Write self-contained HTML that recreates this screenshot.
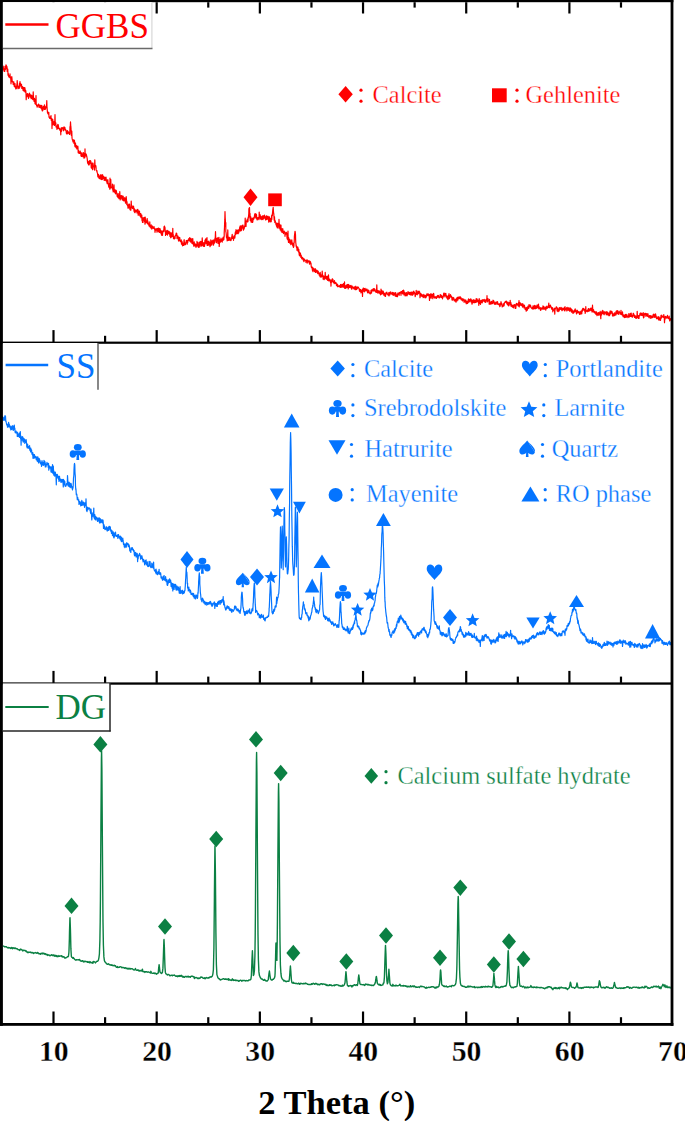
<!DOCTYPE html>
<html><head><meta charset="utf-8"><style>
html,body{margin:0;padding:0;background:#fff;width:685px;height:1121px;overflow:hidden;}
svg{display:block;font-family:"Liberation Serif",serif;}
</style></head><body>
<svg width="685" height="1121" viewBox="0 0 685 1121">
<rect width="685" height="1121" fill="#fff"/>
<path d="M3.0,70.5 L3.2,66.2 L3.5,68.7 L3.8,70.2 L4.0,70.2 L4.2,71.5 L4.5,68.5 L4.8,71.3 L5.0,66.3 L5.2,68.6 L5.5,69.4 L5.8,66.6 L6.0,64.8 L6.2,67.8 L6.5,65.7 L6.8,69.0 L7.0,66.6 L7.2,71.5 L7.5,68.9 L7.8,69.4 L8.0,75.2 L8.2,73.1 L8.5,75.3 L8.8,77.0 L9.0,75.7 L9.2,77.0 L9.5,75.8 L9.8,77.6 L10.0,73.8 L10.2,77.5 L10.5,76.7 L10.8,79.5 L11.0,83.8 L11.2,78.3 L11.5,77.9 L11.8,76.7 L12.0,78.8 L12.2,81.8 L12.5,81.2 L12.8,81.6 L13.0,81.9 L13.2,84.5 L13.5,83.2 L13.8,81.9 L14.0,83.8 L14.2,86.3 L14.5,84.7 L14.8,85.4 L15.0,83.6 L15.2,87.4 L15.5,86.8 L15.8,88.9 L16.0,86.4 L16.2,88.6 L16.5,88.1 L16.8,85.6 L17.0,84.2 L17.2,80.6 L17.5,84.5 L17.8,86.3 L18.0,88.6 L18.2,86.1 L18.5,87.2 L18.8,87.8 L19.0,87.4 L19.2,88.4 L19.5,83.0 L19.8,87.2 L20.0,81.6 L20.2,83.9 L20.5,83.4 L20.8,85.9 L21.0,84.9 L21.2,85.0 L21.5,84.3 L21.8,88.4 L22.0,86.8 L22.2,88.2 L22.5,86.6 L22.8,88.0 L23.0,90.3 L23.2,89.4 L23.5,87.9 L23.8,87.4 L24.0,91.2 L24.2,91.1 L24.5,88.6 L24.8,87.5 L25.0,88.7 L25.2,92.1 L25.5,90.0 L25.8,91.0 L26.0,92.9 L26.2,99.7 L26.5,93.9 L26.8,96.2 L27.0,94.4 L27.2,96.1 L27.5,93.7 L27.8,96.7 L28.0,93.9 L28.2,96.3 L28.5,98.3 L28.8,96.0 L29.0,94.5 L29.2,95.8 L29.5,93.1 L29.8,94.6 L30.0,95.5 L30.2,97.2 L30.5,95.7 L30.8,94.9 L31.0,96.9 L31.2,98.6 L31.5,96.9 L31.8,95.4 L32.0,96.6 L32.2,98.6 L32.5,99.1 L32.8,97.6 L33.0,99.7 L33.2,91.9 L33.5,98.8 L33.8,97.8 L34.0,101.3 L34.2,99.8 L34.5,98.6 L34.8,99.6 L35.0,103.6 L35.2,100.1 L35.5,104.2 L35.8,102.2 L36.0,95.6 L36.2,103.5 L36.5,105.3 L36.8,105.9 L37.0,105.1 L37.2,107.2 L37.5,106.0 L37.8,105.8 L38.0,105.7 L38.2,104.7 L38.5,104.1 L38.8,104.7 L39.0,107.3 L39.2,106.0 L39.5,106.4 L39.8,105.2 L40.0,107.4 L40.2,106.1 L40.5,107.3 L40.8,105.3 L41.0,108.3 L41.2,107.8 L41.5,109.0 L41.8,105.4 L42.0,109.2 L42.2,110.8 L42.5,110.8 L42.8,110.5 L43.0,107.7 L43.2,106.6 L43.5,107.7 L43.8,106.2 L44.0,106.8 L44.2,109.4 L44.5,104.8 L44.8,109.5 L45.0,106.5 L45.2,109.4 L45.5,109.1 L45.8,107.5 L46.0,107.8 L46.2,106.2 L46.5,106.5 L46.8,100.7 L47.0,107.7 L47.2,109.2 L47.5,113.0 L47.8,111.8 L48.0,113.5 L48.2,114.2 L48.5,113.8 L48.8,112.3 L49.0,117.1 L49.2,117.6 L49.5,117.1 L49.8,118.5 L50.0,117.2 L50.2,116.8 L50.5,117.6 L50.8,118.6 L51.0,115.5 L51.2,120.3 L51.5,119.6 L51.8,118.5 L52.0,128.6 L52.2,120.0 L52.5,119.4 L52.8,119.5 L53.0,124.8 L53.2,124.2 L53.5,122.8 L53.8,124.6 L54.0,121.5 L54.2,123.3 L54.5,125.4 L54.8,121.2 L55.0,114.6 L55.2,121.6 L55.5,124.6 L55.8,122.9 L56.0,127.0 L56.2,125.7 L56.5,125.9 L56.8,127.6 L57.0,129.4 L57.2,128.0 L57.5,126.4 L57.8,124.3 L58.0,128.4 L58.2,124.6 L58.5,126.7 L58.8,128.6 L59.0,128.7 L59.2,128.9 L59.5,128.4 L59.8,130.1 L60.0,129.8 L60.2,129.6 L60.5,129.3 L60.8,134.8 L61.0,128.2 L61.2,128.5 L61.5,131.3 L61.8,127.5 L62.0,128.2 L62.2,128.2 L62.5,128.4 L62.8,127.6 L63.0,128.7 L63.2,129.8 L63.5,130.8 L63.8,130.3 L64.0,126.9 L64.2,128.1 L64.5,129.0 L64.8,127.4 L65.0,128.0 L65.2,130.0 L65.5,129.6 L65.8,130.6 L66.0,130.1 L66.2,132.1 L66.5,133.7 L66.8,134.0 L67.0,134.0 L67.2,131.0 L67.5,130.7 L67.8,132.3 L68.0,133.7 L68.2,132.1 L68.5,131.8 L68.8,133.2 L69.0,132.4 L69.2,133.3 L69.5,133.1 L69.5,134.5 L69.8,133.6 L70.0,126.5 L70.0,127.6 L70.2,128.0 L70.5,121.9 L70.8,126.7 L71.0,127.9 L71.0,127.8 L71.2,134.9 L71.5,135.6 L71.5,134.6 L71.8,131.2 L72.0,137.6 L72.2,138.9 L72.5,140.2 L72.8,140.3 L73.0,141.8 L73.2,141.6 L73.5,141.6 L73.8,139.5 L74.0,143.4 L74.2,142.7 L74.5,140.7 L74.8,145.5 L75.0,146.7 L75.2,142.9 L75.5,143.4 L75.8,146.3 L76.0,147.7 L76.2,147.5 L76.5,145.6 L76.8,149.0 L77.0,148.2 L77.2,149.0 L77.5,149.0 L77.8,146.1 L78.0,147.9 L78.2,152.8 L78.5,150.3 L78.8,152.9 L79.0,152.1 L79.2,153.4 L79.5,153.4 L79.8,153.3 L80.0,151.0 L80.2,151.1 L80.5,153.4 L80.8,152.5 L81.0,155.9 L81.2,154.2 L81.5,156.5 L81.8,153.1 L82.0,152.8 L82.2,154.8 L82.5,156.2 L82.8,156.4 L83.0,156.8 L83.2,155.8 L83.5,152.7 L83.8,155.2 L84.0,158.2 L84.2,153.6 L84.5,155.4 L84.8,157.7 L85.0,148.9 L85.2,155.7 L85.5,153.7 L85.8,155.4 L86.0,156.1 L86.2,154.2 L86.5,155.4 L86.8,156.5 L87.0,157.5 L87.2,158.6 L87.5,162.0 L87.8,163.3 L88.0,163.5 L88.2,161.3 L88.5,164.8 L88.8,163.0 L89.0,162.1 L89.2,164.8 L89.5,160.6 L89.8,163.6 L90.0,162.0 L90.2,160.7 L90.5,160.7 L90.8,161.3 L91.0,162.6 L91.2,167.5 L91.5,168.2 L91.8,164.4 L92.0,163.2 L92.2,163.1 L92.5,169.7 L92.8,163.0 L93.0,163.0 L93.2,164.6 L93.5,166.8 L93.8,167.0 L94.0,166.4 L94.2,169.2 L94.5,170.2 L94.8,159.8 L95.0,164.3 L95.2,166.9 L95.5,165.6 L95.8,165.6 L96.0,166.8 L96.2,169.9 L96.5,171.0 L96.8,170.5 L97.0,171.0 L97.2,172.7 L97.5,173.2 L97.8,176.4 L98.0,175.4 L98.2,177.2 L98.5,174.4 L98.8,175.8 L99.0,178.1 L99.2,175.8 L99.5,178.7 L99.8,177.3 L100.0,176.6 L100.2,176.5 L100.5,174.9 L100.8,179.1 L101.0,175.2 L101.2,178.2 L101.5,179.5 L101.8,174.9 L102.0,179.6 L102.2,174.7 L102.5,179.1 L102.8,175.1 L103.0,177.8 L103.2,178.4 L103.5,177.7 L103.8,176.6 L104.0,178.2 L104.2,180.5 L104.5,177.3 L104.8,179.9 L105.0,180.1 L105.2,178.8 L105.5,177.4 L105.8,180.7 L106.0,177.0 L106.2,179.3 L106.5,180.1 L106.8,182.1 L107.0,182.6 L107.2,183.7 L107.5,182.4 L107.8,179.6 L108.0,181.5 L108.2,183.9 L108.5,185.4 L108.8,187.1 L109.0,184.4 L109.2,183.6 L109.5,186.5 L109.8,189.2 L110.0,178.2 L110.2,188.7 L110.5,185.8 L110.8,179.5 L111.0,186.6 L111.2,187.4 L111.5,187.3 L111.8,187.2 L112.0,187.4 L112.2,188.7 L112.5,184.1 L112.8,190.3 L113.0,188.2 L113.2,192.0 L113.5,191.3 L113.8,187.7 L114.0,184.8 L114.2,189.7 L114.5,190.9 L114.8,192.6 L115.0,190.4 L115.2,189.9 L115.5,193.8 L115.8,191.1 L116.0,192.1 L116.2,190.4 L116.5,191.8 L116.8,193.6 L117.0,195.0 L117.2,196.4 L117.5,194.4 L117.8,197.0 L118.0,197.7 L118.2,193.6 L118.5,197.5 L118.8,196.3 L119.0,198.6 L119.2,195.8 L119.5,196.1 L119.8,191.6 L120.0,195.9 L120.2,200.0 L120.5,196.1 L120.8,198.7 L121.0,195.5 L121.2,196.1 L121.5,195.7 L121.8,196.4 L122.0,197.7 L122.2,199.7 L122.5,198.4 L122.8,195.8 L123.0,200.4 L123.2,196.3 L123.5,200.8 L123.8,200.7 L124.0,200.6 L124.2,200.4 L124.5,197.8 L124.8,197.7 L125.0,201.2 L125.2,199.3 L125.5,203.1 L125.8,200.8 L126.0,199.1 L126.2,196.7 L126.5,200.0 L126.8,204.6 L127.0,201.7 L127.2,204.1 L127.5,205.2 L127.8,206.0 L128.0,208.2 L128.2,206.2 L128.5,205.7 L128.8,204.2 L129.0,208.0 L129.2,205.1 L129.5,204.1 L129.8,207.9 L130.0,209.6 L130.2,208.8 L130.5,207.4 L130.8,210.3 L131.0,208.2 L131.2,201.1 L131.5,206.9 L131.8,205.3 L132.0,206.3 L132.2,207.8 L132.5,208.4 L132.8,208.6 L133.0,208.1 L133.2,206.5 L133.5,206.2 L133.8,208.2 L134.0,211.1 L134.2,208.4 L134.5,212.2 L134.8,209.7 L135.0,212.6 L135.2,209.8 L135.5,211.2 L135.8,211.6 L136.0,210.1 L136.2,210.6 L136.5,211.5 L136.8,210.5 L137.0,212.9 L137.2,209.6 L137.5,209.9 L137.8,209.3 L138.0,212.8 L138.2,215.3 L138.5,213.7 L138.8,210.9 L139.0,213.9 L139.2,211.8 L139.5,211.3 L139.8,215.8 L140.0,215.4 L140.2,213.7 L140.5,216.4 L140.8,213.5 L141.0,217.6 L141.2,216.7 L141.5,215.3 L141.8,215.1 L142.0,220.6 L142.2,220.1 L142.5,222.3 L142.8,217.8 L143.0,222.5 L143.2,217.9 L143.5,220.2 L143.8,219.9 L144.0,219.2 L144.2,217.4 L144.5,221.4 L144.8,220.4 L145.0,224.2 L145.2,217.1 L145.5,220.6 L145.8,221.0 L146.0,222.5 L146.2,222.8 L146.5,222.3 L146.8,220.5 L147.0,219.4 L147.2,218.5 L147.5,223.8 L147.8,220.8 L148.0,223.2 L148.2,222.6 L148.5,224.1 L148.8,224.6 L149.0,225.8 L149.2,225.7 L149.5,226.2 L149.8,221.9 L150.0,227.0 L150.2,225.1 L150.5,225.7 L150.8,228.0 L151.0,226.2 L151.2,224.8 L151.5,227.7 L151.8,229.2 L152.0,227.6 L152.2,226.0 L152.5,226.1 L152.8,228.1 L153.0,227.4 L153.2,228.4 L153.5,227.4 L153.8,227.3 L154.0,226.6 L154.2,228.4 L154.5,229.2 L154.8,228.4 L155.0,232.3 L155.2,230.9 L155.5,229.4 L155.8,230.3 L156.0,230.0 L156.2,229.0 L156.5,228.8 L156.8,228.8 L157.0,232.2 L157.2,228.7 L157.5,228.5 L157.8,229.7 L158.0,228.7 L158.2,231.3 L158.5,228.1 L158.8,231.0 L159.0,228.3 L159.2,232.5 L159.5,231.0 L159.8,232.5 L160.0,228.5 L160.2,230.5 L160.5,230.1 L160.8,233.1 L161.0,231.2 L161.2,232.3 L161.5,235.1 L161.8,230.8 L162.0,233.1 L162.2,234.0 L162.5,235.4 L162.8,231.2 L163.0,231.2 L163.2,230.8 L163.5,230.0 L163.5,231.0 L163.8,231.7 L164.0,226.7 L164.0,226.7 L164.2,226.8 L164.5,226.0 L164.8,227.6 L165.0,227.5 L165.0,227.7 L165.2,231.0 L165.5,233.0 L165.5,235.5 L165.8,232.4 L166.0,231.4 L166.2,231.2 L166.5,231.5 L166.8,234.5 L167.0,230.4 L167.2,230.4 L167.5,235.2 L167.8,233.4 L168.0,230.8 L168.2,232.0 L168.5,232.5 L168.8,233.6 L169.0,231.3 L169.2,231.5 L169.5,234.1 L169.8,234.8 L170.0,236.4 L170.2,232.4 L170.5,237.0 L170.8,237.8 L171.0,236.8 L171.2,237.3 L171.5,232.9 L171.8,236.0 L172.0,235.2 L172.2,236.6 L172.5,235.9 L172.8,228.3 L173.0,235.2 L173.2,234.3 L173.5,238.6 L173.8,236.5 L174.0,237.4 L174.2,236.9 L174.5,239.0 L174.8,236.7 L175.0,238.5 L175.2,235.7 L175.5,235.1 L175.8,235.6 L176.0,234.3 L176.2,233.0 L176.5,233.3 L176.8,233.6 L177.0,238.6 L177.2,235.6 L177.5,237.2 L177.8,237.9 L178.0,236.0 L178.2,237.2 L178.5,240.7 L178.8,241.1 L179.0,239.0 L179.2,237.3 L179.5,239.0 L179.8,237.7 L180.0,240.6 L180.2,241.1 L180.5,241.7 L180.8,241.0 L181.0,240.5 L181.2,239.9 L181.5,244.2 L181.8,241.0 L182.0,244.2 L182.2,241.8 L182.5,245.8 L182.8,245.1 L183.0,244.5 L183.2,243.3 L183.5,245.5 L183.8,244.1 L184.0,240.1 L184.2,239.7 L184.5,244.9 L184.8,242.7 L185.0,243.4 L185.2,243.1 L185.5,244.7 L185.8,243.0 L186.0,242.9 L186.2,240.7 L186.5,241.1 L186.8,241.2 L187.0,240.4 L187.2,244.2 L187.5,241.4 L187.8,242.5 L188.0,240.2 L188.2,240.6 L188.5,240.3 L188.8,238.6 L189.0,239.7 L189.2,240.4 L189.5,238.7 L189.8,237.5 L190.0,241.4 L190.2,241.3 L190.5,238.6 L190.8,242.2 L191.0,238.3 L191.2,239.3 L191.5,239.3 L191.8,239.3 L192.0,243.5 L192.2,239.0 L192.5,243.5 L192.8,238.7 L193.0,243.0 L193.2,244.4 L193.5,243.8 L193.8,246.2 L194.0,243.2 L194.2,241.9 L194.5,245.1 L194.8,245.9 L195.0,245.3 L195.2,244.2 L195.5,244.0 L195.8,246.5 L196.0,247.5 L196.2,245.0 L196.5,245.4 L196.8,246.0 L197.0,241.4 L197.2,244.3 L197.5,242.4 L197.8,245.1 L198.0,246.8 L198.2,246.7 L198.5,246.3 L198.8,247.5 L199.0,242.4 L199.2,247.1 L199.5,244.6 L199.8,243.4 L200.0,243.8 L200.2,241.4 L200.5,241.7 L200.8,246.2 L201.0,245.7 L201.2,241.6 L201.5,244.0 L201.8,245.8 L202.0,242.8 L202.2,237.9 L202.5,242.6 L202.8,243.8 L203.0,245.2 L203.2,246.2 L203.5,244.7 L203.8,242.5 L204.0,246.5 L204.2,244.9 L204.5,246.4 L204.8,242.4 L205.0,240.0 L205.2,243.9 L205.5,239.3 L205.8,238.8 L206.0,238.9 L206.2,241.2 L206.5,243.6 L206.8,241.6 L207.0,237.5 L207.2,245.5 L207.5,242.9 L207.8,244.7 L208.0,245.4 L208.2,241.3 L208.5,242.2 L208.8,244.9 L209.0,241.2 L209.2,243.8 L209.5,242.4 L209.8,242.6 L210.0,246.6 L210.2,243.4 L210.5,245.7 L210.8,239.8 L211.0,242.9 L211.2,241.5 L211.5,241.1 L211.8,245.2 L212.0,244.2 L212.2,240.8 L212.5,240.7 L212.8,243.0 L213.0,240.0 L213.2,240.4 L213.5,245.2 L213.8,243.1 L214.0,239.9 L214.2,240.6 L214.5,243.1 L214.8,240.5 L215.0,238.1 L215.2,239.2 L215.5,231.7 L215.8,239.5 L216.0,240.3 L216.2,242.3 L216.5,242.7 L216.8,238.4 L217.0,238.6 L217.2,239.9 L217.5,237.9 L217.8,241.4 L218.0,243.4 L218.2,238.2 L218.5,240.0 L218.8,237.5 L219.0,237.4 L219.2,246.5 L219.5,243.0 L219.8,239.7 L220.0,241.6 L220.2,241.5 L220.5,242.1 L220.8,241.3 L221.0,238.1 L221.2,238.8 L221.5,240.4 L221.8,240.7 L222.0,241.5 L222.2,242.2 L222.5,239.3 L222.8,237.9 L223.0,240.5 L223.2,237.2 L223.5,239.5 L223.8,239.7 L224.0,237.3 L224.2,236.4 L224.2,233.1 L224.5,227.3 L224.6,223.5 L224.8,219.9 L225.0,211.6 L225.2,217.7 L225.4,220.7 L225.5,226.2 L225.8,222.5 L225.8,231.6 L226.0,232.2 L226.2,233.9 L226.5,237.8 L226.8,237.8 L227.0,238.5 L227.2,240.9 L227.5,239.7 L227.8,229.9 L228.0,238.5 L228.2,240.3 L228.5,237.0 L228.8,238.1 L229.0,238.6 L229.2,240.5 L229.5,238.3 L229.8,237.3 L230.0,237.5 L230.2,239.2 L230.5,240.3 L230.8,240.7 L231.0,240.5 L231.2,239.5 L231.5,238.4 L231.8,237.0 L232.0,235.8 L232.2,234.4 L232.5,238.4 L232.8,237.1 L233.0,237.9 L233.2,237.9 L233.5,240.3 L233.8,236.2 L234.0,238.2 L234.2,237.0 L234.5,235.7 L234.8,238.1 L235.0,236.1 L235.2,233.0 L235.5,231.5 L235.8,234.3 L236.0,229.7 L236.2,230.3 L236.5,231.9 L236.8,230.6 L237.0,233.7 L237.2,230.4 L237.5,232.4 L237.8,230.7 L238.0,229.8 L238.2,233.6 L238.5,230.7 L238.8,232.6 L239.0,229.5 L239.2,230.9 L239.5,228.8 L239.8,226.8 L240.0,231.0 L240.2,225.9 L240.5,230.8 L240.8,230.8 L241.0,229.3 L241.2,225.9 L241.5,230.3 L241.8,228.3 L242.0,228.7 L242.2,226.2 L242.5,225.2 L242.8,227.2 L243.0,225.0 L243.2,227.0 L243.5,230.1 L243.8,228.2 L244.0,229.1 L244.2,228.5 L244.5,226.1 L244.8,227.0 L245.0,224.1 L245.2,218.1 L245.5,225.2 L245.8,224.2 L246.0,226.4 L246.2,222.2 L246.5,220.9 L246.8,221.3 L247.0,221.3 L247.2,219.2 L247.5,222.0 L247.8,221.8 L248.0,221.2 L248.2,217.1 L248.2,218.7 L248.5,217.0 L248.8,213.2 L248.9,208.5 L249.0,209.2 L249.2,208.4 L249.5,207.5 L249.8,217.9 L250.0,213.3 L250.1,214.9 L250.2,220.6 L250.5,218.7 L250.8,219.1 L250.8,216.8 L251.0,220.5 L251.2,222.3 L251.5,220.8 L251.8,219.2 L252.0,219.4 L252.2,218.1 L252.5,222.5 L252.8,222.0 L253.0,219.7 L253.2,219.8 L253.5,217.9 L253.8,219.1 L254.0,218.5 L254.2,217.7 L254.5,215.5 L254.8,213.8 L255.0,217.2 L255.2,214.0 L255.5,215.9 L255.8,213.7 L256.0,218.2 L256.2,214.3 L256.5,214.7 L256.8,219.1 L257.0,219.3 L257.2,220.0 L257.5,219.0 L257.8,217.5 L258.0,219.0 L258.2,218.9 L258.5,217.3 L258.8,218.4 L259.0,219.6 L259.2,212.1 L259.5,218.0 L259.8,215.1 L260.0,214.5 L260.2,215.6 L260.5,218.9 L260.8,216.2 L261.0,219.1 L261.2,217.6 L261.5,217.1 L261.8,219.6 L262.0,218.2 L262.2,216.7 L262.5,215.9 L262.8,218.6 L263.0,219.6 L263.2,215.8 L263.5,215.9 L263.8,216.6 L264.0,218.4 L264.2,218.2 L264.5,215.1 L264.8,217.7 L265.0,216.1 L265.2,216.5 L265.5,220.0 L265.8,219.6 L266.0,219.6 L266.2,219.7 L266.5,216.3 L266.8,215.7 L267.0,219.4 L267.2,219.3 L267.5,216.6 L267.8,216.9 L268.0,218.2 L268.2,216.4 L268.5,220.1 L268.8,222.2 L269.0,220.2 L269.2,217.6 L269.5,216.9 L269.8,220.4 L270.0,221.1 L270.2,221.9 L270.5,218.6 L270.8,221.0 L271.0,219.9 L271.2,221.6 L271.5,217.3 L271.7,215.4 L271.8,219.4 L272.0,215.8 L272.2,214.2 L272.4,215.4 L272.5,213.1 L272.8,209.9 L273.0,208.5 L273.2,207.3 L273.5,212.1 L273.6,212.8 L273.8,213.9 L274.0,217.5 L274.2,220.3 L274.3,216.8 L274.5,216.9 L274.8,222.4 L275.0,222.6 L275.2,220.5 L275.5,222.2 L275.8,222.7 L276.0,224.7 L276.2,223.0 L276.5,226.1 L276.8,223.0 L277.0,226.3 L277.2,227.6 L277.5,224.2 L277.8,223.3 L278.0,228.1 L278.2,225.3 L278.5,224.4 L278.8,225.6 L279.0,219.4 L279.2,225.3 L279.5,228.1 L279.8,224.3 L280.0,226.5 L280.2,229.9 L280.5,229.3 L280.8,230.3 L281.0,225.2 L281.2,231.2 L281.5,229.8 L281.8,228.9 L282.0,232.5 L282.2,230.7 L282.5,229.1 L282.8,228.7 L283.0,230.5 L283.2,232.6 L283.5,233.7 L283.8,231.5 L284.0,232.7 L284.2,231.1 L284.5,232.2 L284.8,231.9 L285.0,236.3 L285.2,234.4 L285.5,233.2 L285.8,234.2 L286.0,232.8 L286.2,232.4 L286.5,232.5 L286.8,233.6 L287.0,237.6 L287.2,238.8 L287.5,238.8 L287.8,239.9 L288.0,231.1 L288.2,239.0 L288.5,242.4 L288.8,237.8 L289.0,240.0 L289.2,239.0 L289.5,240.8 L289.8,243.1 L290.0,239.6 L290.2,243.2 L290.5,240.5 L290.8,244.6 L291.0,243.2 L291.2,244.2 L291.5,241.9 L291.8,239.8 L292.0,242.4 L292.2,242.5 L292.5,245.2 L292.8,243.4 L293.0,244.2 L293.2,247.0 L293.5,247.4 L293.8,246.4 L293.9,245.9 L294.0,242.0 L294.2,242.7 L294.4,236.4 L294.5,235.5 L294.8,233.0 L295.0,231.3 L295.2,231.7 L295.5,234.8 L295.6,239.0 L295.8,243.0 L296.0,244.1 L296.1,246.3 L296.2,245.1 L296.5,247.5 L296.8,246.6 L297.0,250.3 L297.2,249.6 L297.5,247.3 L297.8,247.1 L298.0,247.8 L298.2,251.4 L298.5,251.9 L298.8,249.3 L299.0,252.1 L299.2,254.7 L299.5,255.8 L299.8,252.4 L300.0,255.3 L300.2,253.7 L300.5,253.5 L300.8,257.3 L301.0,255.6 L301.2,255.3 L301.5,257.6 L301.8,258.9 L302.0,257.0 L302.2,258.9 L302.5,258.3 L302.8,257.7 L303.0,259.2 L303.2,260.2 L303.5,258.5 L303.8,261.5 L304.0,261.6 L304.2,260.7 L304.5,259.1 L304.8,259.8 L305.0,260.1 L305.2,260.2 L305.5,260.5 L305.8,260.8 L306.0,262.3 L306.2,260.5 L306.5,261.4 L306.8,261.8 L307.0,259.5 L307.2,263.2 L307.5,261.4 L307.8,261.6 L308.0,260.5 L308.2,261.9 L308.5,261.0 L308.8,261.5 L309.0,260.9 L309.2,262.3 L309.5,264.1 L309.8,261.2 L310.0,263.9 L310.2,262.6 L310.5,261.8 L310.8,263.5 L311.0,263.2 L311.2,266.3 L311.5,267.6 L311.8,266.7 L312.0,267.2 L312.2,268.6 L312.5,270.7 L312.8,267.4 L313.0,271.6 L313.2,268.9 L313.5,268.6 L313.8,269.1 L314.0,269.3 L314.2,269.6 L314.5,271.3 L314.8,268.8 L315.0,271.8 L315.2,268.7 L315.5,272.4 L315.8,269.4 L316.0,272.5 L316.2,271.4 L316.5,272.0 L316.8,271.4 L317.0,270.3 L317.2,270.6 L317.5,273.2 L317.8,273.5 L318.0,271.0 L318.2,271.4 L318.5,272.3 L318.8,272.9 L319.0,273.9 L319.2,275.2 L319.5,273.6 L319.8,273.6 L320.0,276.7 L320.2,272.4 L320.5,275.6 L320.8,276.7 L321.0,277.3 L321.2,275.2 L321.5,276.8 L321.8,274.8 L322.0,275.4 L322.2,271.1 L322.5,276.5 L322.8,275.1 L323.0,277.3 L323.2,279.2 L323.5,276.7 L323.8,276.0 L324.0,277.8 L324.2,279.7 L324.5,277.6 L324.8,277.5 L325.0,277.5 L325.2,272.4 L325.5,278.0 L325.8,278.7 L326.0,278.8 L326.2,276.6 L326.5,279.2 L326.8,277.6 L327.0,276.2 L327.2,276.5 L327.5,280.1 L327.8,277.3 L328.0,280.5 L328.2,277.5 L328.5,274.8 L328.8,281.0 L329.0,279.8 L329.2,281.0 L329.5,279.0 L329.8,280.2 L330.0,280.1 L330.2,280.0 L330.5,282.5 L330.8,282.2 L331.0,286.1 L331.2,280.0 L331.5,281.9 L331.8,282.2 L332.0,281.7 L332.2,279.0 L332.5,278.8 L332.8,280.0 L333.0,279.5 L333.2,281.5 L333.5,282.6 L333.8,282.8 L334.0,281.6 L334.2,283.6 L334.5,280.7 L334.8,283.1 L335.0,283.0 L335.2,282.4 L335.5,283.5 L335.8,282.5 L336.0,282.5 L336.2,284.0 L336.5,285.7 L336.8,285.7 L337.0,283.8 L337.2,284.7 L337.5,286.7 L337.8,284.9 L338.0,286.6 L338.2,286.3 L338.5,286.5 L338.8,286.2 L339.0,286.6 L339.2,286.1 L339.5,285.7 L339.8,285.8 L340.0,285.8 L340.2,287.4 L340.5,284.5 L340.8,286.1 L341.0,284.4 L341.2,287.5 L341.5,284.9 L341.8,284.8 L342.0,284.9 L342.2,286.4 L342.5,284.4 L342.8,284.6 L343.0,287.4 L343.2,286.9 L343.5,283.6 L343.8,284.4 L344.0,286.5 L344.2,287.3 L344.5,281.8 L344.8,288.5 L345.0,285.8 L345.2,288.4 L345.5,285.9 L345.8,285.8 L346.0,288.2 L346.2,287.1 L346.5,285.0 L346.8,285.0 L347.0,287.5 L347.2,284.5 L347.5,286.9 L347.8,285.7 L348.0,284.3 L348.2,288.9 L348.5,286.5 L348.8,284.7 L349.0,287.6 L349.2,286.7 L349.5,285.9 L349.8,287.3 L350.0,285.6 L350.2,286.5 L350.5,286.0 L350.8,287.6 L351.0,285.4 L351.2,286.7 L351.5,289.0 L351.8,289.2 L352.0,286.9 L352.2,286.0 L352.5,287.5 L352.8,287.9 L353.0,287.6 L353.2,287.6 L353.5,287.2 L353.8,288.9 L354.0,288.9 L354.2,288.0 L354.5,287.0 L354.8,286.8 L355.0,289.4 L355.2,289.7 L355.5,287.0 L355.8,286.2 L356.0,287.8 L356.2,289.6 L356.5,289.4 L356.8,288.2 L357.0,287.2 L357.2,289.0 L357.5,287.1 L357.8,287.1 L358.0,286.9 L358.2,287.9 L358.5,287.5 L358.8,288.1 L359.0,288.1 L359.2,289.1 L359.5,291.1 L359.8,291.4 L360.0,289.4 L360.2,291.2 L360.5,289.6 L360.8,291.7 L361.0,292.9 L361.2,290.6 L361.5,290.8 L361.8,292.1 L362.0,291.8 L362.2,289.4 L362.5,296.5 L362.8,289.4 L363.0,291.0 L363.2,288.0 L363.5,288.0 L363.8,290.3 L364.0,291.5 L364.2,288.5 L364.5,291.8 L364.8,288.8 L365.0,288.4 L365.2,290.4 L365.5,290.8 L365.8,290.5 L366.0,289.2 L366.2,289.8 L366.5,289.3 L366.8,290.9 L367.0,289.2 L367.2,289.8 L367.5,292.4 L367.8,292.8 L368.0,290.4 L368.2,290.2 L368.5,292.3 L368.8,290.4 L369.0,290.9 L369.2,293.1 L369.5,292.9 L369.8,293.2 L370.0,292.8 L370.2,294.0 L370.5,292.7 L370.8,293.2 L371.0,290.3 L371.2,292.6 L371.5,293.1 L371.8,290.3 L372.0,289.5 L372.2,290.6 L372.5,290.8 L372.8,290.2 L373.0,290.5 L373.2,288.7 L373.5,290.0 L373.8,291.1 L374.0,290.6 L374.2,288.5 L374.5,290.6 L374.8,289.8 L375.0,289.2 L375.2,291.3 L375.5,290.7 L375.8,292.1 L376.0,292.0 L376.2,292.5 L376.5,292.0 L376.8,284.8 L377.0,289.6 L377.2,291.3 L377.5,293.0 L377.8,291.9 L378.0,290.6 L378.2,293.0 L378.5,290.8 L378.8,292.9 L379.0,292.1 L379.2,290.9 L379.5,293.2 L379.8,291.6 L380.0,292.3 L380.2,293.9 L380.5,294.9 L380.8,294.0 L381.0,289.1 L381.2,294.4 L381.5,290.2 L381.8,290.4 L382.0,292.6 L382.2,292.3 L382.5,293.8 L382.8,293.7 L383.0,291.2 L383.2,291.2 L383.5,292.8 L383.8,295.1 L384.0,293.3 L384.2,293.2 L384.5,293.6 L384.8,295.7 L385.0,296.2 L385.2,295.8 L385.5,296.4 L385.8,292.9 L386.0,294.1 L386.2,292.5 L386.5,293.6 L386.8,292.0 L387.0,293.9 L387.2,293.0 L387.5,294.5 L387.8,294.5 L388.0,295.0 L388.2,295.2 L388.5,295.2 L388.8,292.5 L389.0,296.0 L389.2,292.3 L389.5,294.9 L389.8,295.0 L390.0,293.8 L390.2,293.8 L390.5,291.9 L390.8,292.1 L391.0,293.0 L391.2,293.9 L391.5,294.0 L391.8,293.8 L392.0,292.9 L392.2,294.3 L392.5,292.3 L392.8,294.3 L393.0,292.8 L393.2,295.4 L393.5,294.8 L393.8,292.7 L394.0,294.2 L394.2,292.9 L394.5,294.5 L394.8,295.3 L395.0,295.5 L395.2,296.1 L395.5,292.5 L395.8,293.0 L396.0,293.7 L396.2,296.4 L396.5,296.6 L396.8,296.4 L397.0,294.8 L397.2,296.2 L397.5,296.7 L397.8,293.0 L398.0,294.2 L398.2,292.8 L398.5,294.5 L398.8,294.2 L399.0,293.8 L399.2,295.3 L399.5,292.5 L399.8,293.1 L400.0,292.3 L400.2,292.1 L400.5,292.5 L400.8,291.9 L401.0,295.3 L401.2,292.2 L401.5,291.5 L401.8,292.0 L402.0,293.2 L402.2,293.3 L402.5,290.6 L402.8,294.0 L403.0,292.3 L403.2,291.9 L403.5,290.2 L403.8,290.5 L404.0,295.0 L404.2,292.0 L404.5,292.3 L404.8,294.0 L405.0,292.5 L405.2,295.9 L405.5,294.1 L405.8,295.7 L406.0,294.0 L406.2,293.4 L406.5,292.5 L406.8,294.6 L407.0,295.9 L407.2,295.4 L407.5,294.0 L407.8,292.5 L408.0,291.6 L408.2,294.1 L408.5,293.6 L408.8,292.4 L409.0,292.6 L409.2,292.6 L409.5,294.4 L409.8,292.4 L410.0,294.6 L410.2,293.8 L410.5,294.4 L410.8,295.0 L411.0,292.1 L411.2,293.9 L411.5,294.5 L411.8,292.1 L412.0,294.0 L412.2,295.3 L412.5,293.1 L412.8,292.5 L413.0,294.7 L413.2,291.5 L413.5,293.9 L413.8,291.2 L414.0,293.2 L414.2,292.2 L414.5,292.3 L414.8,293.7 L415.0,294.9 L415.2,296.7 L415.5,295.1 L415.8,293.4 L416.0,294.4 L416.2,290.3 L416.5,292.9 L416.8,294.0 L417.0,293.1 L417.2,294.8 L417.5,294.1 L417.8,291.1 L418.0,293.7 L418.2,293.3 L418.5,293.7 L418.8,291.6 L419.0,291.1 L419.2,291.9 L419.5,291.7 L419.8,293.1 L420.0,297.6 L420.2,295.9 L420.5,293.4 L420.8,294.8 L421.0,294.0 L421.2,296.0 L421.5,294.0 L421.8,295.9 L422.0,296.5 L422.2,296.1 L422.5,294.9 L422.8,296.2 L423.0,295.4 L423.2,297.7 L423.5,295.9 L423.8,294.4 L424.0,297.1 L424.2,295.1 L424.5,295.6 L424.8,296.8 L425.0,296.2 L425.2,298.0 L425.5,295.4 L425.8,296.5 L426.0,297.6 L426.2,295.0 L426.5,296.4 L426.8,294.0 L427.0,293.8 L427.2,295.5 L427.5,294.2 L427.8,295.6 L428.0,293.9 L428.2,293.9 L428.5,294.8 L428.8,294.4 L429.0,296.3 L429.2,295.7 L429.5,300.5 L429.8,294.6 L430.0,294.3 L430.2,294.8 L430.5,297.8 L430.8,296.6 L431.0,293.6 L431.2,298.1 L431.5,296.0 L431.8,295.4 L432.0,296.2 L432.2,294.4 L432.5,294.4 L432.8,298.7 L433.0,294.5 L433.2,295.5 L433.5,293.3 L433.8,293.8 L434.0,296.7 L434.2,297.6 L434.5,297.8 L434.8,296.9 L435.0,298.1 L435.2,296.7 L435.5,296.9 L435.8,297.6 L436.0,297.9 L436.2,297.3 L436.5,298.5 L436.8,296.4 L437.0,297.1 L437.2,297.4 L437.5,295.7 L437.8,296.8 L438.0,295.3 L438.2,295.6 L438.5,295.5 L438.8,297.3 L439.0,296.9 L439.2,298.0 L439.5,297.0 L439.8,296.9 L440.0,297.1 L440.2,294.7 L440.5,295.4 L440.8,294.8 L441.0,295.9 L441.2,297.4 L441.5,295.5 L441.8,296.0 L442.0,296.8 L442.2,297.7 L442.5,298.9 L442.8,296.3 L443.0,296.2 L443.2,297.2 L443.5,294.7 L443.8,293.2 L444.0,294.1 L444.2,293.2 L444.5,295.8 L444.8,294.4 L445.0,296.9 L445.2,293.7 L445.5,294.1 L445.8,293.4 L446.0,295.0 L446.2,295.2 L446.5,296.5 L446.8,298.0 L447.0,298.2 L447.2,296.1 L447.5,297.4 L447.8,299.4 L448.0,299.6 L448.2,298.7 L448.5,295.0 L448.8,297.1 L449.0,293.7 L449.2,298.7 L449.5,298.2 L449.8,296.8 L450.0,295.2 L450.2,297.0 L450.5,294.6 L450.8,296.1 L451.0,297.1 L451.2,296.3 L451.5,296.2 L451.8,297.8 L452.0,299.9 L452.2,297.7 L452.5,300.2 L452.8,299.9 L453.0,297.4 L453.2,298.7 L453.5,298.0 L453.8,297.9 L454.0,298.9 L454.2,300.6 L454.5,300.6 L454.8,299.9 L455.0,301.1 L455.2,301.2 L455.5,299.5 L455.8,299.2 L456.0,302.1 L456.2,300.4 L456.5,299.3 L456.8,297.8 L457.0,300.8 L457.2,300.5 L457.5,297.3 L457.8,299.6 L458.0,299.9 L458.2,297.1 L458.5,297.8 L458.8,297.4 L459.0,298.3 L459.2,297.1 L459.5,296.9 L459.8,297.9 L460.0,298.8 L460.2,298.7 L460.5,296.8 L460.8,298.6 L461.0,297.5 L461.2,299.8 L461.5,299.1 L461.8,299.2 L462.0,300.1 L462.2,298.7 L462.5,300.9 L462.8,299.0 L463.0,300.1 L463.2,300.1 L463.5,299.0 L463.8,299.0 L464.0,302.2 L464.2,301.2 L464.5,301.9 L464.8,301.7 L465.0,299.9 L465.2,302.2 L465.5,301.2 L465.8,300.1 L466.0,300.5 L466.2,303.6 L466.5,303.0 L466.8,303.7 L467.0,302.2 L467.2,301.4 L467.5,303.5 L467.8,302.6 L468.0,302.7 L468.2,300.2 L468.5,298.9 L468.8,302.2 L469.0,299.3 L469.2,300.7 L469.5,301.6 L469.8,300.9 L470.0,299.4 L470.2,299.3 L470.5,299.6 L470.8,298.8 L471.0,302.0 L471.2,299.5 L471.5,300.0 L471.8,302.9 L472.0,304.2 L472.2,300.7 L472.5,301.7 L472.8,302.8 L473.0,301.2 L473.2,299.6 L473.5,302.3 L473.8,300.3 L474.0,302.6 L474.2,300.4 L474.5,301.8 L474.8,300.1 L475.0,302.6 L475.2,302.0 L475.5,301.4 L475.8,300.6 L476.0,302.3 L476.2,298.5 L476.5,301.6 L476.8,301.8 L477.0,298.9 L477.2,301.8 L477.5,301.7 L477.8,300.2 L478.0,301.0 L478.2,302.0 L478.5,300.3 L478.8,305.3 L479.0,300.8 L479.2,298.6 L479.5,300.6 L479.8,302.3 L480.0,303.4 L480.2,302.2 L480.5,304.3 L480.8,300.4 L481.0,302.7 L481.2,302.4 L481.5,301.5 L481.8,300.2 L482.0,301.2 L482.2,302.9 L482.5,301.5 L482.8,299.5 L483.0,301.4 L483.2,300.6 L483.5,299.9 L483.8,300.8 L484.0,300.1 L484.2,299.3 L484.5,301.4 L484.8,300.2 L485.0,302.1 L485.2,301.0 L485.5,300.2 L485.8,302.4 L486.0,301.0 L486.2,299.3 L486.5,300.7 L486.8,299.9 L487.0,295.7 L487.2,300.8 L487.5,301.9 L487.8,300.4 L488.0,298.6 L488.2,300.7 L488.5,300.1 L488.8,301.1 L489.0,300.0 L489.2,304.2 L489.5,299.4 L489.8,304.2 L490.0,303.6 L490.2,302.0 L490.5,303.2 L490.8,302.4 L491.0,304.1 L491.2,301.6 L491.5,301.3 L491.8,302.0 L492.0,303.5 L492.2,303.7 L492.5,303.7 L492.8,302.2 L493.0,300.2 L493.2,300.6 L493.5,300.5 L493.8,302.8 L494.0,301.2 L494.2,303.9 L494.5,304.2 L494.8,302.8 L495.0,303.9 L495.2,304.5 L495.5,303.8 L495.8,302.2 L496.0,302.6 L496.2,301.9 L496.5,302.8 L496.8,302.9 L497.0,304.5 L497.2,303.2 L497.5,301.7 L497.8,303.2 L498.0,303.3 L498.2,304.3 L498.5,304.1 L498.8,304.5 L499.0,304.8 L499.2,303.8 L499.5,304.4 L499.8,306.7 L500.0,306.5 L500.2,303.9 L500.5,303.0 L500.8,305.0 L501.0,301.7 L501.2,303.5 L501.5,303.0 L501.8,303.6 L502.0,304.5 L502.2,306.9 L502.5,306.3 L502.8,306.0 L503.0,306.4 L503.2,304.9 L503.5,305.1 L503.8,303.4 L504.0,305.9 L504.2,304.6 L504.5,302.7 L504.8,302.7 L505.0,301.9 L505.2,301.7 L505.5,301.3 L505.8,301.7 L506.0,302.3 L506.2,302.9 L506.5,301.0 L506.8,302.2 L507.0,304.0 L507.2,304.0 L507.5,304.6 L507.8,303.3 L508.0,302.0 L508.2,305.4 L508.5,305.8 L508.8,305.3 L509.0,305.7 L509.2,302.6 L509.5,303.2 L509.8,303.9 L510.0,303.8 L510.2,300.3 L510.5,304.6 L510.8,302.4 L511.0,306.2 L511.2,303.9 L511.5,305.6 L511.8,306.6 L512.0,306.0 L512.2,305.3 L512.5,307.1 L512.8,306.3 L513.0,305.1 L513.2,305.3 L513.5,307.8 L513.8,306.6 L514.0,304.9 L514.2,305.6 L514.5,304.6 L514.8,305.1 L515.0,304.8 L515.2,308.5 L515.5,306.7 L515.8,308.4 L516.0,305.9 L516.2,303.8 L516.5,303.5 L516.8,303.9 L517.0,304.9 L517.2,304.9 L517.5,304.0 L517.8,303.8 L518.0,305.5 L518.2,305.9 L518.5,302.7 L518.8,306.1 L519.0,300.5 L519.2,306.8 L519.5,304.8 L519.8,304.4 L520.0,302.7 L520.2,302.9 L520.5,303.5 L520.8,305.4 L521.0,305.2 L521.2,305.0 L521.5,304.2 L521.8,305.6 L522.0,303.7 L522.2,305.6 L522.5,307.1 L522.8,303.8 L523.0,304.2 L523.2,304.7 L523.5,306.7 L523.8,305.6 L524.0,308.0 L524.2,305.0 L524.5,305.6 L524.8,307.0 L525.0,307.5 L525.2,309.5 L525.5,308.3 L525.8,309.9 L526.0,307.8 L526.2,311.2 L526.5,308.2 L526.8,307.4 L527.0,307.7 L527.2,310.3 L527.5,309.8 L527.8,307.2 L528.0,306.0 L528.2,306.9 L528.5,306.2 L528.8,308.3 L529.0,304.6 L529.2,305.2 L529.5,305.0 L529.8,306.4 L530.0,306.9 L530.2,306.0 L530.5,305.1 L530.8,306.8 L531.0,307.3 L531.2,307.7 L531.5,307.8 L531.8,308.6 L532.0,307.5 L532.2,307.8 L532.5,308.8 L532.8,308.2 L533.0,305.8 L533.2,309.1 L533.5,308.1 L533.8,306.5 L534.0,305.9 L534.2,308.6 L534.5,308.4 L534.8,305.4 L535.0,307.4 L535.2,308.8 L535.5,306.6 L535.8,306.3 L536.0,306.0 L536.2,308.5 L536.5,307.9 L536.8,306.2 L537.0,307.1 L537.2,304.9 L537.5,305.5 L537.8,307.8 L538.0,306.1 L538.2,308.0 L538.5,304.2 L538.8,308.8 L539.0,306.3 L539.2,307.4 L539.5,307.7 L539.8,307.9 L540.0,308.6 L540.2,309.3 L540.5,310.4 L540.8,307.6 L541.0,309.9 L541.2,307.8 L541.5,309.0 L541.8,308.4 L542.0,308.9 L542.2,308.6 L542.5,307.5 L542.8,309.1 L543.0,305.9 L543.2,308.5 L543.5,306.3 L543.8,308.5 L544.0,309.3 L544.2,309.2 L544.5,308.6 L544.8,308.9 L545.0,306.8 L545.2,308.8 L545.5,308.1 L545.8,310.2 L546.0,309.0 L546.2,307.4 L546.5,306.9 L546.8,306.2 L547.0,306.1 L547.2,308.4 L547.5,306.9 L547.8,307.8 L548.0,306.9 L548.2,307.5 L548.5,306.1 L548.8,303.1 L549.0,307.3 L549.2,305.4 L549.5,307.7 L549.8,306.8 L550.0,307.1 L550.2,305.0 L550.5,305.3 L550.8,306.9 L551.0,307.4 L551.2,306.9 L551.5,308.6 L551.8,307.5 L552.0,309.4 L552.2,307.5 L552.5,308.0 L552.8,311.8 L553.0,310.9 L553.2,310.9 L553.5,310.1 L553.8,309.6 L554.0,309.5 L554.2,308.2 L554.5,309.9 L554.8,314.1 L555.0,308.7 L555.2,309.3 L555.5,308.3 L555.8,308.1 L556.0,307.9 L556.2,307.0 L556.5,306.8 L556.8,307.9 L557.0,310.2 L557.2,311.1 L557.5,308.2 L557.8,309.1 L558.0,308.2 L558.2,311.6 L558.5,309.4 L558.8,310.8 L559.0,310.6 L559.2,310.9 L559.5,307.6 L559.8,307.7 L560.0,308.6 L560.2,308.2 L560.5,309.4 L560.8,309.4 L561.0,307.4 L561.2,308.3 L561.5,309.9 L561.8,308.0 L562.0,310.7 L562.2,308.1 L562.5,310.2 L562.8,309.0 L563.0,309.9 L563.2,308.6 L563.5,309.3 L563.8,309.3 L564.0,307.9 L564.2,307.7 L564.5,310.8 L564.8,308.7 L565.0,306.7 L565.2,309.5 L565.5,308.9 L565.8,309.3 L566.0,308.8 L566.2,310.9 L566.5,307.9 L566.8,308.9 L567.0,308.2 L567.2,307.3 L567.5,308.5 L567.8,310.7 L568.0,309.7 L568.2,308.9 L568.5,310.1 L568.8,307.6 L569.0,309.6 L569.2,309.1 L569.5,310.6 L569.8,311.4 L570.0,309.2 L570.2,307.8 L570.5,310.7 L570.8,309.4 L571.0,308.7 L571.2,309.7 L571.5,312.1 L571.8,310.9 L572.0,309.7 L572.2,310.5 L572.5,312.1 L572.8,310.9 L573.0,313.5 L573.2,312.9 L573.5,311.4 L573.8,311.7 L574.0,312.7 L574.2,310.6 L574.5,310.4 L574.8,309.6 L575.0,311.6 L575.2,308.9 L575.5,310.8 L575.8,310.7 L576.0,311.6 L576.2,312.0 L576.5,313.8 L576.8,311.8 L577.0,310.1 L577.2,312.0 L577.5,310.7 L577.8,312.8 L578.0,312.0 L578.2,311.6 L578.5,312.6 L578.8,311.9 L579.0,312.9 L579.2,313.1 L579.5,314.4 L579.8,311.9 L580.0,314.3 L580.2,313.5 L580.5,311.8 L580.8,311.5 L581.0,311.0 L581.2,313.9 L581.5,310.8 L581.8,313.6 L582.0,309.9 L582.2,311.7 L582.5,309.7 L582.8,308.4 L583.0,309.6 L583.2,309.9 L583.5,310.2 L583.8,308.4 L584.0,309.1 L584.2,309.3 L584.5,309.7 L584.8,311.4 L585.0,309.6 L585.2,313.5 L585.5,311.7 L585.8,306.7 L586.0,310.4 L586.2,311.6 L586.5,311.0 L586.8,310.9 L587.0,310.6 L587.2,311.1 L587.5,310.8 L587.8,311.8 L588.0,309.0 L588.2,311.4 L588.5,308.5 L588.8,308.6 L589.0,309.0 L589.2,311.0 L589.5,310.9 L589.8,310.5 L590.0,309.2 L590.2,310.6 L590.5,309.3 L590.8,308.1 L591.0,309.4 L591.2,308.1 L591.5,310.5 L591.8,309.4 L592.0,312.0 L592.2,310.8 L592.5,305.2 L592.8,310.3 L593.0,311.9 L593.2,309.6 L593.5,309.6 L593.8,311.8 L594.0,311.5 L594.2,312.5 L594.5,312.9 L594.8,311.4 L595.0,312.7 L595.2,313.1 L595.5,312.8 L595.8,313.7 L596.0,314.5 L596.2,311.6 L596.5,312.4 L596.8,313.5 L597.0,315.6 L597.2,314.2 L597.5,313.8 L597.8,312.9 L598.0,314.8 L598.2,314.7 L598.5,312.5 L598.8,315.1 L599.0,315.3 L599.2,312.8 L599.5,314.3 L599.8,312.7 L600.0,312.5 L600.2,311.4 L600.5,314.3 L600.8,318.7 L601.0,312.6 L601.2,315.3 L601.5,315.1 L601.8,312.0 L602.0,311.2 L602.2,312.4 L602.5,313.3 L602.8,310.3 L603.0,311.9 L603.2,313.9 L603.5,311.9 L603.8,313.9 L604.0,311.9 L604.2,314.7 L604.5,311.8 L604.8,313.1 L605.0,312.1 L605.2,312.9 L605.5,313.1 L605.8,312.3 L606.0,311.9 L606.2,314.6 L606.5,311.8 L606.8,311.9 L607.0,312.6 L607.2,315.0 L607.5,312.1 L607.8,312.7 L608.0,314.6 L608.2,312.9 L608.5,313.3 L608.8,315.7 L609.0,314.8 L609.2,314.8 L609.5,315.6 L609.8,311.9 L610.0,314.6 L610.2,310.9 L610.5,313.6 L610.8,312.0 L611.0,312.3 L611.2,311.2 L611.5,313.1 L611.8,312.7 L612.0,311.7 L612.2,312.3 L612.5,315.9 L612.8,315.8 L613.0,313.8 L613.2,315.4 L613.5,315.9 L613.8,314.6 L614.0,315.6 L614.2,313.2 L614.5,315.6 L614.8,312.9 L615.0,315.0 L615.2,314.9 L615.5,314.8 L615.8,315.1 L616.0,311.7 L616.2,311.3 L616.5,310.9 L616.8,313.8 L617.0,311.2 L617.2,313.7 L617.5,310.7 L617.8,313.0 L618.0,314.0 L618.2,312.6 L618.5,312.7 L618.8,314.4 L619.0,311.0 L619.2,311.3 L619.5,312.8 L619.8,312.3 L620.0,312.6 L620.2,313.3 L620.5,312.3 L620.8,314.5 L621.0,310.3 L621.2,312.8 L621.5,314.5 L621.8,313.2 L622.0,315.0 L622.2,314.7 L622.5,311.8 L622.8,315.8 L623.0,316.2 L623.2,316.9 L623.5,316.1 L623.8,314.9 L624.0,315.2 L624.2,316.1 L624.5,317.6 L624.8,316.4 L625.0,315.9 L625.2,314.8 L625.5,314.4 L625.8,317.4 L626.0,316.6 L626.2,316.2 L626.5,317.1 L626.8,314.3 L627.0,316.1 L627.2,315.9 L627.5,316.7 L627.8,316.2 L628.0,317.6 L628.2,316.8 L628.5,317.0 L628.8,313.7 L629.0,315.5 L629.2,316.9 L629.5,317.0 L629.8,314.8 L630.0,316.5 L630.2,313.6 L630.5,313.4 L630.8,316.5 L631.0,314.4 L631.2,313.1 L631.5,316.6 L631.8,315.4 L632.0,315.9 L632.2,315.5 L632.5,317.1 L632.8,315.2 L633.0,316.3 L633.2,313.4 L633.5,313.3 L633.8,315.1 L634.0,314.5 L634.2,315.2 L634.5,317.5 L634.8,317.2 L635.0,315.5 L635.2,316.6 L635.5,318.0 L635.8,317.1 L636.0,316.2 L636.2,318.5 L636.5,317.8 L636.8,317.4 L637.0,315.7 L637.2,311.4 L637.5,317.4 L637.8,317.9 L638.0,317.9 L638.2,315.7 L638.5,318.5 L638.8,317.2 L639.0,318.5 L639.2,315.4 L639.5,315.0 L639.8,315.6 L640.0,313.4 L640.2,313.5 L640.5,313.9 L640.8,312.8 L641.0,313.8 L641.2,315.5 L641.5,314.6 L641.8,313.3 L642.0,315.1 L642.2,315.1 L642.5,315.5 L642.8,314.2 L643.0,315.5 L643.2,312.6 L643.5,317.9 L643.8,317.1 L644.0,317.1 L644.2,313.9 L644.5,314.3 L644.8,313.3 L645.0,314.8 L645.2,314.4 L645.5,313.3 L645.8,313.9 L646.0,316.4 L646.2,315.7 L646.5,313.7 L646.8,315.3 L647.0,315.1 L647.2,315.1 L647.5,316.4 L647.8,313.6 L648.0,313.8 L648.2,315.9 L648.5,316.0 L648.8,317.1 L649.0,317.7 L649.2,317.9 L649.5,315.5 L649.8,315.5 L650.0,316.1 L650.2,316.7 L650.5,316.2 L650.8,318.5 L651.0,315.7 L651.2,315.9 L651.5,316.8 L651.8,317.7 L652.0,317.1 L652.2,316.3 L652.5,316.3 L652.8,317.7 L653.0,314.9 L653.2,315.1 L653.5,314.2 L653.8,314.3 L654.0,314.8 L654.2,317.1 L654.5,316.1 L654.8,317.1 L655.0,317.4 L655.2,314.1 L655.5,313.9 L655.8,315.2 L656.0,316.7 L656.2,316.0 L656.5,318.7 L656.8,318.5 L657.0,318.6 L657.2,318.0 L657.5,318.5 L657.8,316.8 L658.0,318.6 L658.2,317.0 L658.5,319.4 L658.8,316.5 L659.0,320.3 L659.2,320.2 L659.5,319.2 L659.8,317.8 L660.0,318.7 L660.2,318.3 L660.5,320.3 L660.8,318.0 L661.0,315.4 L661.2,318.3 L661.5,317.6 L661.8,315.2 L662.0,315.6 L662.2,315.9 L662.5,316.9 L662.8,316.7 L663.0,317.2 L663.2,317.4 L663.5,317.1 L663.8,314.5 L664.0,315.7 L664.2,316.2 L664.5,322.7 L664.8,318.5 L665.0,319.5 L665.2,318.5 L665.5,316.4 L665.8,317.4 L666.0,316.9 L666.2,317.0 L666.5,318.1 L666.8,317.0 L667.0,316.7 L667.2,316.5 L667.5,315.4 L667.8,318.1 L668.0,317.6 L668.2,317.1 L668.5,318.7 L668.8,318.4 L669.0,318.4 L669.2,316.2 L669.5,319.8 L669.8,321.0 L670.0,319.2 L670.2,320.5 L670.5,318.5 L670.8,319.1 L671.0,320.2" fill="none" stroke="#ff0000" stroke-width="1.2" stroke-linejoin="round"/>
<path d="M250.5,188.4 L257.5,197.2 L250.5,205.9 L243.5,197.2 Z" fill="#ff0000"/>
<rect x="268.2" y="193.4" width="13.6" height="12.8" fill="#ff0000"/>
<path d="M345.6,86.1 L352.8,94.3 L345.6,102.5 L338.4,94.3 Z" fill="#ff0000"/>
<circle cx="361.0" cy="90.2" r="1.6" fill="#ff0000"/><circle cx="361.0" cy="101.2" r="1.6" fill="#ff0000"/>
<text x="372.6" y="103.0" font-size="24.4" fill="#ff0000" font-weight="normal" text-anchor="start" stroke="#fff" stroke-width="0.30">Calcite</text>
<rect x="492.0" y="88.3" width="14.7" height="14.0" fill="#ff0000"/>
<circle cx="517.0" cy="90.2" r="1.6" fill="#ff0000"/><circle cx="517.0" cy="101.2" r="1.6" fill="#ff0000"/>
<text x="525.5" y="103.0" font-size="24.4" fill="#ff0000" font-weight="normal" text-anchor="start" stroke="#fff" stroke-width="0.30">Gehlenite</text>
<path d="M2.3,416.0 L2.5,417.4 L2.8,416.9 L3.0,419.8 L3.3,418.2 L3.5,418.0 L3.8,420.0 L4.0,420.4 L4.3,418.0 L4.5,417.0 L4.8,416.6 L5.0,415.6 L5.3,420.2 L5.5,416.2 L5.8,421.5 L6.0,421.0 L6.3,422.7 L6.5,423.6 L6.8,425.0 L7.0,424.7 L7.3,424.5 L7.5,427.1 L7.8,424.4 L8.1,427.0 L8.3,425.5 L8.6,422.3 L8.8,425.0 L9.1,426.9 L9.3,424.2 L9.6,427.0 L9.8,425.5 L10.1,426.1 L10.3,428.2 L10.6,426.9 L10.8,430.0 L11.1,426.6 L11.3,427.4 L11.6,427.8 L11.8,429.4 L12.1,428.6 L12.3,425.6 L12.6,426.4 L12.8,427.9 L13.1,430.0 L13.3,430.4 L13.6,426.0 L13.8,427.5 L14.1,427.6 L14.3,425.2 L14.6,429.5 L14.8,428.1 L15.1,432.1 L15.3,432.8 L15.6,431.7 L15.8,432.3 L16.1,431.0 L16.3,432.8 L16.6,432.6 L16.8,433.3 L17.1,432.2 L17.3,436.5 L17.6,432.6 L17.8,435.4 L18.1,434.9 L18.3,436.6 L18.6,434.8 L18.8,434.2 L19.1,433.9 L19.3,433.1 L19.6,437.4 L19.8,436.2 L20.1,434.2 L20.3,431.5 L20.6,438.7 L20.8,435.8 L21.1,445.2 L21.3,436.6 L21.6,437.4 L21.8,440.2 L22.1,439.6 L22.3,438.2 L22.6,436.7 L22.8,439.7 L23.1,441.9 L23.3,442.1 L23.6,438.0 L23.8,439.2 L24.1,439.1 L24.3,441.3 L24.6,439.2 L24.8,443.4 L25.1,440.3 L25.3,442.4 L25.6,442.4 L25.8,439.9 L26.1,439.7 L26.3,440.8 L26.6,443.7 L26.8,447.0 L27.1,445.7 L27.3,447.9 L27.6,444.1 L27.8,445.5 L28.1,447.5 L28.3,448.0 L28.6,448.2 L28.8,448.1 L29.1,446.3 L29.3,448.3 L29.6,445.7 L29.8,450.3 L30.1,450.4 L30.3,448.0 L30.6,451.9 L30.8,448.2 L31.1,451.5 L31.3,450.2 L31.6,450.0 L31.8,452.6 L32.0,454.3 L32.3,453.0 L32.5,455.0 L32.8,452.7 L33.0,458.3 L33.3,454.3 L33.5,456.7 L33.8,454.4 L34.0,458.2 L34.3,458.1 L34.5,454.7 L34.8,457.2 L35.0,457.0 L35.3,457.3 L35.5,457.6 L35.8,456.4 L36.0,458.3 L36.3,459.8 L36.5,458.2 L36.8,458.5 L37.0,457.1 L37.3,461.3 L37.5,457.1 L37.8,456.9 L38.0,457.8 L38.3,460.8 L38.5,462.9 L38.8,459.6 L39.0,458.4 L39.3,459.1 L39.5,458.9 L39.8,462.3 L40.0,460.3 L40.3,462.9 L40.5,463.9 L40.8,463.2 L41.0,462.3 L41.3,462.5 L41.5,466.5 L41.8,464.7 L42.0,460.7 L42.3,463.3 L42.5,464.3 L42.8,462.3 L43.0,465.1 L43.3,463.2 L43.5,465.3 L43.8,465.0 L44.0,460.4 L44.3,461.0 L44.5,464.6 L44.8,462.3 L45.0,461.9 L45.3,466.9 L45.5,463.7 L45.8,466.0 L46.0,466.8 L46.3,465.0 L46.5,464.5 L46.8,463.4 L47.0,462.3 L47.3,464.7 L47.5,463.3 L47.8,464.4 L48.0,465.2 L48.3,467.5 L48.5,463.4 L48.8,470.2 L49.0,469.0 L49.3,465.9 L49.5,468.1 L49.8,467.9 L50.0,466.5 L50.3,467.5 L50.5,467.2 L50.8,468.9 L51.0,472.0 L51.3,466.9 L51.5,472.1 L51.8,471.1 L52.0,472.4 L52.3,471.2 L52.5,464.5 L52.8,472.9 L53.0,473.6 L53.3,466.0 L53.5,469.9 L53.8,475.2 L54.0,471.0 L54.3,474.4 L54.5,473.2 L54.8,476.1 L55.0,475.5 L55.3,472.2 L55.5,473.7 L55.8,473.9 L56.0,476.6 L56.3,484.8 L56.5,476.3 L56.8,474.7 L57.0,478.1 L57.3,474.3 L57.5,475.3 L57.8,477.2 L58.0,476.3 L58.3,476.2 L58.5,479.3 L58.8,477.9 L59.0,481.5 L59.3,476.3 L59.5,476.4 L59.8,479.8 L60.0,478.7 L60.3,481.0 L60.5,480.6 L60.8,479.4 L61.0,482.5 L61.3,482.2 L61.5,481.2 L61.8,481.1 L62.0,479.4 L62.3,482.0 L62.5,479.7 L62.8,480.4 L63.0,482.1 L63.3,487.0 L63.5,479.4 L63.8,481.0 L64.0,484.9 L64.3,481.4 L64.5,480.9 L64.8,481.7 L65.0,484.5 L65.3,486.5 L65.5,485.4 L65.8,486.2 L66.0,485.7 L66.3,485.1 L66.5,483.7 L66.8,484.4 L67.0,483.8 L67.3,483.3 L67.5,475.5 L67.8,480.2 L68.0,485.7 L68.3,484.4 L68.5,486.1 L68.8,486.2 L69.0,482.1 L69.3,483.3 L69.5,486.6 L69.8,483.0 L70.0,486.7 L70.3,487.7 L70.5,485.7 L70.8,484.2 L71.0,483.3 L71.3,484.6 L71.5,486.1 L71.8,487.8 L72.0,486.5 L72.3,488.5 L72.5,490.0 L72.8,487.0 L73.0,488.1 L73.2,485.3 L73.3,482.9 L73.5,478.1 L73.8,475.8 L73.9,473.7 L74.0,469.8 L74.3,464.5 L74.5,463.6 L74.5,463.4 L74.8,464.9 L75.0,471.9 L75.1,474.1 L75.3,475.9 L75.5,485.8 L75.8,489.6 L75.8,488.4 L76.0,489.7 L76.3,494.7 L76.5,493.9 L76.8,494.2 L77.0,496.0 L77.3,499.7 L77.5,497.3 L77.8,497.7 L78.0,499.6 L78.3,499.7 L78.5,501.0 L78.8,499.8 L79.0,504.5 L79.3,501.4 L79.5,501.6 L79.8,501.6 L80.0,502.7 L80.3,504.2 L80.5,504.2 L80.8,506.0 L81.0,504.0 L81.3,501.7 L81.5,505.4 L81.8,500.4 L82.0,501.4 L82.3,501.7 L82.5,505.2 L82.8,504.5 L83.0,504.5 L83.3,502.9 L83.5,502.2 L83.8,505.1 L84.0,504.4 L84.3,502.8 L84.5,507.3 L84.8,504.3 L85.0,505.3 L85.3,502.8 L85.5,505.6 L85.8,505.6 L86.0,498.8 L86.3,507.3 L86.5,510.2 L86.8,510.9 L87.0,511.6 L87.3,507.1 L87.5,507.6 L87.8,509.9 L88.0,507.7 L88.3,509.2 L88.5,508.3 L88.8,508.6 L89.0,507.9 L89.3,507.9 L89.5,508.8 L89.8,508.4 L90.0,510.6 L90.3,509.7 L90.5,512.7 L90.8,513.6 L91.0,509.0 L91.3,512.2 L91.5,514.6 L91.8,519.9 L92.0,516.9 L92.3,516.4 L92.5,515.5 L92.8,512.8 L93.0,516.1 L93.3,514.0 L93.5,513.8 L93.8,508.0 L94.0,517.5 L94.3,517.8 L94.5,518.9 L94.8,514.5 L95.0,516.8 L95.3,516.3 L95.5,519.9 L95.8,518.2 L96.0,516.9 L96.3,517.3 L96.5,518.0 L96.8,517.7 L97.0,520.3 L97.3,518.5 L97.5,521.3 L97.8,518.0 L98.0,521.3 L98.3,518.6 L98.5,518.1 L98.8,518.1 L99.0,520.7 L99.3,517.9 L99.5,523.0 L99.8,522.3 L100.0,519.2 L100.3,518.7 L100.5,521.4 L100.8,522.9 L101.0,520.1 L101.3,521.6 L101.5,522.2 L101.8,520.4 L102.0,519.5 L102.3,521.0 L102.5,523.0 L102.8,521.5 L103.0,520.0 L103.3,523.4 L103.5,528.5 L103.8,525.1 L104.0,524.8 L104.3,528.2 L104.5,526.2 L104.8,529.1 L105.0,529.6 L105.3,528.9 L105.5,529.2 L105.8,529.3 L106.0,527.7 L106.3,526.8 L106.5,526.9 L106.8,528.7 L107.0,530.8 L107.3,530.0 L107.5,531.0 L107.8,530.0 L108.0,527.3 L108.3,527.9 L108.5,530.4 L108.8,528.3 L109.0,526.4 L109.3,526.4 L109.5,526.7 L109.8,527.7 L110.0,529.9 L110.3,526.8 L110.5,529.2 L110.8,530.9 L111.0,531.6 L111.3,530.2 L111.5,533.5 L111.8,532.9 L112.0,530.6 L112.3,532.6 L112.5,535.7 L112.8,533.7 L113.0,532.4 L113.3,531.9 L113.5,535.6 L113.8,537.6 L114.0,537.9 L114.3,533.7 L114.5,536.6 L114.8,532.8 L115.0,534.9 L115.3,536.0 L115.5,532.1 L115.8,535.5 L116.0,535.4 L116.3,535.9 L116.5,536.5 L116.8,535.3 L117.0,536.3 L117.3,535.0 L117.5,535.2 L117.8,538.3 L118.0,534.5 L118.3,535.2 L118.5,534.6 L118.8,536.8 L119.0,535.9 L119.3,538.2 L119.5,536.4 L119.8,537.4 L120.0,536.4 L120.3,539.7 L120.5,536.2 L120.8,536.4 L121.0,540.4 L121.3,541.3 L121.5,537.5 L121.8,541.6 L122.0,540.1 L122.3,539.5 L122.5,541.1 L122.8,538.2 L123.0,540.2 L123.3,542.3 L123.5,544.4 L123.8,543.1 L124.0,544.4 L124.3,547.0 L124.5,546.8 L124.8,544.4 L125.0,547.7 L125.3,545.4 L125.5,544.2 L125.8,543.8 L126.0,546.5 L126.3,547.1 L126.5,544.4 L126.8,542.5 L127.0,543.5 L127.3,544.6 L127.5,544.7 L127.8,543.8 L128.1,544.0 L128.3,546.7 L128.6,544.1 L128.8,546.1 L129.1,545.1 L129.3,545.9 L129.6,548.3 L129.8,550.9 L130.1,550.5 L130.3,550.5 L130.6,551.1 L130.8,552.4 L131.1,547.8 L131.3,548.9 L131.6,548.0 L131.8,549.2 L132.1,549.6 L132.3,547.7 L132.6,548.7 L132.8,549.6 L133.1,550.1 L133.3,549.4 L133.6,551.1 L133.8,551.6 L134.1,550.6 L134.3,554.7 L134.6,555.8 L134.8,553.4 L135.1,552.4 L135.3,555.3 L135.6,555.8 L135.8,552.5 L136.1,556.9 L136.3,553.5 L136.6,556.9 L136.8,556.1 L137.1,553.4 L137.3,553.8 L137.6,561.6 L137.8,557.1 L138.1,559.0 L138.3,557.0 L138.6,555.0 L138.8,555.8 L139.1,555.7 L139.3,554.5 L139.6,553.4 L139.8,555.6 L140.1,554.5 L140.3,555.5 L140.6,559.1 L140.8,557.0 L141.1,556.7 L141.3,558.6 L141.6,557.6 L141.8,555.6 L142.1,556.9 L142.3,558.0 L142.6,559.9 L142.8,560.0 L143.1,561.8 L143.3,559.5 L143.6,559.3 L143.8,560.0 L144.1,561.7 L144.3,560.8 L144.6,564.8 L144.8,563.4 L145.1,562.6 L145.3,560.6 L145.6,563.4 L145.8,561.9 L146.1,559.9 L146.3,564.9 L146.6,562.0 L146.8,562.4 L147.1,563.6 L147.3,561.8 L147.6,566.2 L147.8,566.3 L148.1,566.6 L148.3,565.6 L148.6,566.5 L148.8,566.1 L149.1,561.4 L149.3,562.6 L149.6,564.0 L149.8,566.0 L150.1,561.5 L150.3,565.6 L150.6,566.5 L150.8,567.5 L151.1,567.7 L151.3,566.3 L151.6,567.1 L151.8,563.1 L152.1,563.2 L152.3,567.3 L152.6,567.2 L152.8,566.8 L153.1,564.4 L153.3,568.2 L153.6,562.1 L153.8,567.1 L154.1,569.4 L154.3,570.3 L154.6,570.8 L154.8,571.0 L155.1,570.7 L155.3,569.9 L155.6,572.3 L155.8,573.0 L156.1,569.2 L156.3,574.0 L156.6,571.9 L156.8,571.0 L157.1,572.6 L157.3,574.0 L157.6,574.7 L157.8,572.5 L158.1,573.3 L158.3,574.0 L158.6,571.4 L158.8,572.8 L159.1,569.3 L159.3,574.1 L159.6,574.2 L159.8,572.5 L160.1,573.2 L160.3,574.3 L160.6,572.8 L160.8,574.4 L161.1,578.0 L161.3,576.6 L161.6,577.0 L161.8,578.3 L162.1,578.0 L162.3,579.7 L162.6,580.3 L162.8,578.7 L163.1,576.4 L163.3,579.6 L163.6,576.3 L163.8,576.1 L164.1,575.6 L164.3,580.0 L164.6,580.1 L164.8,579.9 L165.1,579.3 L165.3,580.3 L165.6,576.7 L165.8,578.3 L166.1,581.7 L166.3,581.3 L166.6,581.8 L166.8,579.7 L167.1,585.0 L167.3,582.8 L167.6,585.4 L167.8,581.4 L168.1,583.8 L168.3,579.9 L168.6,582.7 L168.8,582.5 L169.1,582.5 L169.3,582.2 L169.6,578.9 L169.8,582.4 L170.1,581.1 L170.3,580.8 L170.6,580.1 L170.8,581.6 L171.1,586.4 L171.3,582.6 L171.6,584.3 L171.8,584.1 L172.1,588.2 L172.3,584.1 L172.6,583.5 L172.8,590.9 L173.1,585.8 L173.3,584.3 L173.6,584.1 L173.8,584.2 L174.1,589.5 L174.3,585.9 L174.6,584.4 L174.8,587.0 L175.1,586.8 L175.3,586.4 L175.6,584.3 L175.8,588.9 L176.1,589.9 L176.3,590.2 L176.6,586.6 L176.8,585.8 L177.1,589.6 L177.3,589.2 L177.6,589.7 L177.8,586.9 L178.1,590.2 L178.3,587.1 L178.6,587.6 L178.8,587.8 L179.1,591.7 L179.3,593.2 L179.6,589.7 L179.8,592.0 L180.1,586.5 L180.3,593.5 L180.6,592.3 L180.8,590.3 L181.1,591.3 L181.3,591.9 L181.6,593.2 L181.8,592.3 L182.1,590.8 L182.3,590.2 L182.6,593.9 L182.8,590.5 L183.1,593.2 L183.3,591.5 L183.6,593.4 L183.8,591.6 L184.1,591.5 L184.3,593.0 L184.6,590.6 L184.8,590.8 L185.0,590.0 L185.1,588.0 L185.3,585.9 L185.6,579.5 L185.7,578.7 L185.8,576.9 L186.1,570.2 L186.3,567.4 L186.6,574.7 L186.8,572.1 L186.9,573.3 L187.1,577.0 L187.3,583.7 L187.6,583.3 L187.6,587.8 L187.8,588.4 L188.1,587.4 L188.3,590.9 L188.6,587.7 L188.8,587.0 L189.1,589.8 L189.3,590.1 L189.6,589.6 L189.8,591.5 L190.1,592.7 L190.3,590.2 L190.6,591.1 L190.8,591.5 L191.1,594.4 L191.3,593.9 L191.6,593.9 L191.8,594.6 L192.1,593.8 L192.3,593.2 L192.6,594.7 L192.8,595.4 L193.1,593.4 L193.3,596.4 L193.6,593.5 L193.8,594.5 L194.1,597.9 L194.3,595.1 L194.6,595.9 L194.8,596.6 L195.1,598.7 L195.3,598.5 L195.6,598.9 L195.8,595.2 L196.1,594.9 L196.3,597.1 L196.6,595.8 L196.8,596.5 L197.1,595.5 L197.3,598.5 L197.6,597.7 L197.8,595.1 L197.9,592.5 L198.1,593.4 L198.3,589.8 L198.6,583.9 L198.6,582.0 L198.8,579.5 L199.1,574.3 L199.2,574.9 L199.3,572.8 L199.6,577.9 L199.8,576.3 L199.8,583.7 L200.1,587.7 L200.3,591.8 L200.5,593.9 L200.6,594.0 L200.8,596.3 L201.1,599.8 L201.3,599.3 L201.6,599.4 L201.8,601.5 L202.1,601.8 L202.3,598.2 L202.6,598.5 L202.8,598.8 L203.1,599.3 L203.3,600.3 L203.6,600.5 L203.8,602.9 L204.1,602.3 L204.3,603.0 L204.6,601.3 L204.8,603.8 L205.1,601.8 L205.3,604.7 L205.6,602.4 L205.8,602.9 L206.1,603.4 L206.3,602.4 L206.6,603.1 L206.8,605.1 L207.1,602.7 L207.3,603.3 L207.6,604.2 L207.8,604.4 L208.1,602.7 L208.3,603.7 L208.6,604.0 L208.8,603.1 L209.1,602.7 L209.3,602.5 L209.6,604.0 L209.8,602.8 L210.1,601.4 L210.3,602.4 L210.6,601.7 L210.8,602.9 L211.1,604.7 L211.3,603.2 L211.6,605.1 L211.8,605.8 L212.1,606.4 L212.3,604.9 L212.6,603.5 L212.8,605.3 L213.1,603.1 L213.3,603.2 L213.6,603.8 L213.8,603.9 L214.1,603.5 L214.3,601.9 L214.6,603.4 L214.8,608.5 L215.1,603.5 L215.3,603.3 L215.6,603.3 L215.8,605.8 L216.1,605.0 L216.3,603.6 L216.6,604.2 L216.8,606.4 L217.1,606.1 L217.3,606.4 L217.6,602.3 L217.8,603.3 L218.1,601.7 L218.3,604.5 L218.6,602.7 L218.8,601.1 L219.1,602.1 L219.3,602.4 L219.6,600.8 L219.8,603.6 L220.1,604.5 L220.3,600.6 L220.6,601.2 L220.8,601.5 L221.1,600.4 L221.3,602.9 L221.6,601.2 L221.8,599.9 L222.1,602.2 L222.3,600.5 L222.4,600.0 L222.6,599.0 L222.8,600.1 L223.1,600.5 L223.2,596.6 L223.3,600.3 L223.6,600.3 L223.6,604.7 L223.8,600.6 L224.0,605.0 L224.1,601.7 L224.3,604.3 L224.6,604.8 L224.8,606.6 L225.1,608.1 L225.3,607.9 L225.6,609.8 L225.8,608.6 L226.1,609.8 L226.3,607.6 L226.6,608.6 L226.8,606.9 L227.1,605.9 L227.3,606.8 L227.6,606.2 L227.8,607.2 L228.1,608.5 L228.3,606.5 L228.6,606.9 L228.8,607.8 L229.1,607.1 L229.3,609.8 L229.6,610.1 L229.8,608.8 L230.1,610.5 L230.3,609.7 L230.6,608.8 L230.8,610.8 L231.1,610.7 L231.3,609.0 L231.6,611.5 L231.8,612.3 L232.1,610.9 L232.3,609.7 L232.6,610.0 L232.8,609.9 L233.1,610.9 L233.3,611.3 L233.6,610.5 L233.8,610.0 L234.1,609.8 L234.3,608.9 L234.6,606.2 L234.8,607.9 L235.1,606.9 L235.3,608.2 L235.6,606.2 L235.8,607.0 L236.1,606.9 L236.3,609.8 L236.6,609.8 L236.8,609.4 L237.1,610.3 L237.3,610.9 L237.6,608.9 L237.8,609.9 L238.1,609.1 L238.3,610.2 L238.6,609.8 L238.8,611.9 L239.1,610.6 L239.3,611.2 L239.6,610.7 L239.8,612.7 L240.1,613.5 L240.3,611.6 L240.6,610.2 L240.6,609.2 L240.8,609.1 L241.1,604.2 L241.3,600.3 L241.3,597.9 L241.6,593.9 L241.8,592.8 L241.9,592.2 L242.1,592.3 L242.3,595.1 L242.5,597.9 L242.6,599.1 L242.8,605.5 L243.1,608.0 L243.2,607.3 L243.3,607.8 L243.6,609.7 L243.8,612.0 L244.1,611.6 L244.3,612.3 L244.6,615.2 L244.8,611.6 L245.1,614.8 L245.3,615.0 L245.6,611.9 L245.8,611.7 L246.1,611.6 L246.3,613.3 L246.6,610.8 L246.8,613.7 L247.1,611.7 L247.3,613.6 L247.6,612.5 L247.8,612.4 L248.1,610.0 L248.3,611.7 L248.6,611.6 L248.8,610.8 L249.1,610.7 L249.3,613.2 L249.6,608.9 L249.8,612.5 L250.1,612.1 L250.3,612.4 L250.6,613.2 L250.8,613.8 L251.1,613.2 L251.3,612.9 L251.6,612.1 L251.8,609.8 L252.1,608.9 L252.3,608.4 L252.6,608.5 L252.8,610.8 L253.0,606.8 L253.1,603.9 L253.3,602.6 L253.6,595.0 L253.7,591.8 L253.8,589.7 L254.1,585.1 L254.3,583.0 L254.6,585.3 L254.8,591.6 L254.9,597.2 L255.1,599.1 L255.3,604.9 L255.6,608.1 L255.6,612.4 L255.8,611.6 L256.1,611.7 L256.3,611.3 L256.6,610.4 L256.8,610.8 L257.1,611.2 L257.3,612.8 L257.6,613.8 L257.8,614.9 L258.1,613.7 L258.3,613.3 L258.6,614.2 L258.8,614.8 L259.1,615.2 L259.3,617.6 L259.6,614.9 L259.8,617.5 L260.1,616.0 L260.3,617.1 L260.6,618.2 L260.8,615.1 L261.1,616.4 L261.3,616.1 L261.6,614.4 L261.8,617.3 L262.1,617.4 L262.3,616.3 L262.6,616.6 L262.8,617.2 L263.1,616.3 L263.3,615.1 L263.6,618.1 L263.8,619.4 L264.1,619.6 L264.3,618.2 L264.6,618.3 L264.8,620.6 L265.1,620.9 L265.3,619.3 L265.6,618.4 L265.8,617.5 L266.1,617.9 L266.3,617.3 L266.6,617.6 L266.8,617.2 L267.1,617.5 L267.3,617.5 L267.6,617.4 L267.8,616.3 L268.1,616.1 L268.3,615.3 L268.6,616.4 L268.8,613.7 L269.1,610.8 L269.1,608.6 L269.3,607.3 L269.6,600.3 L269.8,593.7 L269.8,596.2 L270.1,588.2 L270.3,584.6 L270.5,581.5 L270.6,583.2 L270.8,586.1 L271.1,591.7 L271.2,595.7 L271.3,597.2 L271.6,603.2 L271.8,608.2 L271.9,610.2 L272.1,612.7 L272.3,612.9 L272.6,613.9 L272.8,611.9 L273.1,613.2 L273.3,613.3 L273.6,610.3 L273.8,609.3 L274.1,611.5 L274.3,609.1 L274.6,610.1 L274.8,609.3 L275.1,606.2 L275.3,607.5 L275.6,605.9 L275.8,606.3 L276.1,606.9 L276.3,603.3 L276.6,597.1 L276.8,603.5 L277.1,600.8 L277.3,600.5 L277.6,598.5 L277.8,597.3 L278.1,597.4 L278.3,594.3 L278.6,594.2 L278.8,593.1 L279.1,588.3 L279.3,584.2 L279.5,578.5 L279.6,577.8 L279.8,562.9 L280.0,551.7 L280.1,544.9 L280.3,534.9 L280.5,526.8 L280.6,529.7 L280.8,535.3 L281.0,548.4 L281.1,548.5 L281.2,562.8 L281.3,568.1 L281.5,560.9 L281.6,560.9 L281.7,550.9 L281.8,543.6 L282.1,530.2 L282.2,526.0 L282.3,528.2 L282.6,539.8 L282.7,550.2 L282.8,554.9 L283.1,567.1 L283.2,569.7 L283.2,567.6 L283.3,561.6 L283.6,550.2 L283.7,536.6 L283.8,529.8 L284.1,515.0 L284.3,507.5 L284.6,511.4 L284.8,529.9 L284.9,532.9 L285.1,545.2 L285.3,559.8 L285.3,561.3 L285.4,565.6 L285.6,566.9 L285.8,556.1 L285.8,554.9 L286.1,543.2 L286.3,536.8 L286.6,544.6 L286.8,553.4 L286.8,555.9 L287.1,567.2 L287.3,573.5 L287.3,572.1 L287.6,573.9 L287.8,573.5 L288.1,570.2 L288.3,569.3 L288.6,560.2 L288.8,550.8 L288.8,549.6 L289.1,538.3 L289.3,520.1 L289.6,501.5 L289.7,485.8 L289.8,477.4 L290.1,459.5 L290.3,442.9 L290.6,432.5 L290.6,433.3 L290.8,438.3 L291.1,452.4 L291.3,471.8 L291.5,484.6 L291.6,493.8 L291.8,515.0 L292.1,532.2 L292.3,546.4 L292.4,548.3 L292.6,558.9 L292.8,563.5 L293.1,567.4 L293.3,570.1 L293.6,575.2 L293.8,575.3 L294.1,574.0 L294.3,569.0 L294.4,566.3 L294.6,557.9 L294.8,538.3 L294.9,534.6 L295.1,522.2 L295.3,508.2 L295.4,507.0 L295.6,508.9 L295.8,525.5 L295.9,541.4 L296.1,546.3 L296.3,564.7 L296.3,566.8 L296.4,562.7 L296.6,556.7 L296.8,539.9 L296.8,536.2 L297.1,522.2 L297.3,515.0 L297.4,512.2 L297.6,517.9 L297.8,537.1 L298.0,551.9 L298.1,557.8 L298.3,581.4 L298.5,593.1 L298.6,596.3 L298.8,604.9 L299.1,615.2 L299.3,617.9 L299.6,618.7 L299.8,617.8 L300.1,618.1 L300.3,618.7 L300.6,619.4 L300.8,618.1 L301.1,619.6 L301.3,617.8 L301.6,617.9 L301.8,615.0 L302.1,613.9 L302.2,613.5 L302.3,610.8 L302.6,608.3 L302.8,606.3 L303.1,605.2 L303.3,602.2 L303.4,601.8 L303.6,604.9 L303.8,605.0 L304.0,605.3 L304.1,604.6 L304.3,609.1 L304.6,608.8 L304.6,608.3 L304.8,608.4 L305.1,610.4 L305.3,609.5 L305.6,612.6 L305.8,613.7 L306.1,613.5 L306.3,614.0 L306.6,613.3 L306.8,612.6 L307.1,615.7 L307.3,614.8 L307.6,615.8 L307.8,615.9 L308.1,617.8 L308.3,616.0 L308.6,619.1 L308.8,620.8 L309.1,620.0 L309.3,617.9 L309.6,619.7 L309.8,617.0 L310.1,619.1 L310.3,618.0 L310.6,616.0 L310.8,615.0 L311.1,615.0 L311.3,613.6 L311.6,612.4 L311.8,612.3 L312.1,608.7 L312.3,608.0 L312.4,608.1 L312.6,606.9 L312.8,605.4 L313.1,606.2 L313.1,604.5 L313.3,602.3 L313.6,599.8 L313.7,597.0 L313.8,600.2 L314.1,601.1 L314.3,602.5 L314.3,603.1 L314.6,604.7 L314.8,607.2 L315.0,607.8 L315.1,607.5 L315.3,609.5 L315.6,608.4 L315.8,611.8 L316.1,610.2 L316.3,612.6 L316.6,609.7 L316.8,611.1 L317.1,611.6 L317.3,611.0 L317.6,610.2 L317.8,611.2 L318.1,613.2 L318.3,613.6 L318.6,612.6 L318.8,612.3 L319.1,611.4 L319.3,610.4 L319.6,609.9 L319.7,607.1 L319.8,604.9 L320.1,604.6 L320.3,595.3 L320.5,586.2 L320.6,585.0 L320.8,579.5 L321.1,575.1 L321.3,572.6 L321.6,576.5 L321.8,581.7 L322.1,589.1 L322.1,590.0 L322.3,594.0 L322.6,601.5 L322.8,606.8 L322.9,608.7 L323.1,611.5 L323.3,612.7 L323.6,616.3 L323.8,614.8 L324.1,616.3 L324.3,617.1 L324.6,615.9 L324.8,617.8 L325.1,616.2 L325.3,618.9 L325.6,619.4 L325.8,616.9 L326.1,617.9 L326.3,618.3 L326.6,616.8 L326.8,617.4 L327.1,617.8 L327.3,618.4 L327.6,620.4 L327.8,620.6 L328.1,618.6 L328.3,621.0 L328.6,620.4 L328.8,618.6 L329.1,618.0 L329.3,620.9 L329.6,619.1 L329.8,620.5 L330.1,620.0 L330.3,621.8 L330.6,621.3 L330.8,622.4 L331.1,622.2 L331.3,623.0 L331.6,624.4 L331.8,621.8 L332.1,623.4 L332.3,622.3 L332.6,622.8 L332.8,621.9 L333.1,624.5 L333.3,623.0 L333.6,625.5 L333.8,625.8 L334.1,624.5 L334.3,625.6 L334.6,624.2 L334.8,624.8 L335.1,623.7 L335.3,623.6 L335.6,624.5 L335.8,625.1 L336.1,625.3 L336.3,625.9 L336.6,625.2 L336.8,627.3 L337.1,625.3 L337.3,625.6 L337.6,624.7 L337.8,625.9 L338.1,627.5 L338.3,627.1 L338.6,624.5 L338.8,627.1 L339.1,621.8 L339.1,620.7 L339.3,620.8 L339.6,614.8 L339.8,610.3 L339.8,609.4 L340.1,605.0 L340.3,602.2 L340.4,601.7 L340.6,603.0 L340.8,603.4 L341.0,613.1 L341.1,611.8 L341.3,615.7 L341.6,620.2 L341.7,623.5 L341.8,623.6 L342.1,625.3 L342.3,627.1 L342.6,626.5 L342.8,627.9 L343.1,627.1 L343.3,629.3 L343.6,629.0 L343.8,629.0 L344.1,629.6 L344.3,627.8 L344.6,629.2 L344.8,628.7 L345.1,629.9 L345.3,630.0 L345.6,629.3 L345.8,630.6 L346.1,629.5 L346.3,630.8 L346.6,629.0 L346.8,629.7 L347.1,629.1 L347.3,626.4 L347.6,630.8 L347.8,631.8 L348.1,632.1 L348.3,633.2 L348.6,631.7 L348.8,628.2 L349.1,631.3 L349.3,631.6 L349.6,633.7 L349.8,633.5 L350.1,632.0 L350.3,631.2 L350.6,630.7 L350.8,629.1 L351.1,629.6 L351.3,628.0 L351.6,629.8 L351.8,629.6 L352.1,627.7 L352.3,627.7 L352.6,629.3 L352.8,625.9 L353.1,628.0 L353.3,624.7 L353.6,625.4 L353.8,623.8 L354.1,623.5 L354.3,621.8 L354.6,623.7 L354.7,620.8 L354.8,620.6 L355.1,620.2 L355.3,618.7 L355.4,617.6 L355.6,618.3 L355.8,612.9 L356.0,616.7 L356.1,615.7 L356.3,618.6 L356.6,620.3 L356.6,619.9 L356.8,620.6 L357.1,623.2 L357.3,624.6 L357.3,626.1 L357.6,626.9 L357.8,626.5 L358.1,626.2 L358.3,625.9 L358.6,627.5 L358.8,626.3 L359.1,628.8 L359.3,628.0 L359.6,628.2 L359.8,628.8 L360.1,629.8 L360.3,630.3 L360.6,630.5 L360.8,634.2 L361.1,632.1 L361.3,632.3 L361.6,634.8 L361.8,632.3 L362.1,633.7 L362.3,633.6 L362.6,633.5 L362.8,634.2 L363.1,633.2 L363.3,634.2 L363.6,633.4 L363.8,633.9 L364.1,633.3 L364.3,632.9 L364.6,631.8 L364.8,633.9 L365.1,632.5 L365.3,630.6 L365.6,632.3 L365.8,631.7 L366.1,631.0 L366.3,628.8 L366.6,627.5 L366.8,627.6 L367.1,626.3 L367.3,625.9 L367.6,625.9 L367.8,625.5 L368.1,624.6 L368.3,622.8 L368.6,622.8 L368.8,620.9 L369.1,620.5 L369.3,621.0 L369.6,620.1 L369.7,619.1 L369.8,619.4 L370.1,616.6 L370.3,613.4 L370.4,613.4 L370.6,612.3 L370.8,613.1 L371.0,609.8 L371.1,609.6 L371.3,609.6 L371.6,610.9 L371.6,608.6 L371.8,608.1 L372.1,610.4 L372.3,608.1 L372.3,610.7 L372.6,608.0 L372.8,610.0 L373.1,607.0 L373.3,606.2 L373.6,606.4 L373.8,604.9 L374.1,606.0 L374.3,603.0 L374.6,603.1 L374.8,601.7 L375.1,600.5 L375.3,597.2 L375.6,596.2 L375.8,594.0 L376.1,593.6 L376.3,593.4 L376.6,591.7 L376.8,589.5 L377.1,587.1 L377.3,585.0 L377.6,585.9 L377.8,587.0 L378.1,583.1 L378.3,585.4 L378.6,583.0 L378.8,581.6 L379.1,579.9 L379.3,578.4 L379.6,577.7 L379.8,574.6 L380.1,573.7 L380.2,570.8 L380.3,570.4 L380.6,565.2 L380.8,561.7 L381.1,556.4 L381.3,547.2 L381.4,547.0 L381.6,542.4 L381.8,534.3 L382.1,531.5 L382.3,525.3 L382.6,526.5 L382.6,525.4 L382.8,527.9 L383.1,533.5 L383.3,542.6 L383.6,551.7 L383.8,560.2 L384.1,572.8 L384.3,580.8 L384.6,587.3 L384.8,597.4 L385.0,601.9 L385.1,601.4 L385.3,606.8 L385.6,609.5 L385.8,611.8 L386.1,614.1 L386.3,616.0 L386.6,617.0 L386.8,619.2 L387.1,623.0 L387.3,623.2 L387.6,622.5 L387.8,624.0 L388.1,627.2 L388.3,628.2 L388.6,628.8 L388.8,631.3 L389.1,629.3 L389.3,631.9 L389.6,631.6 L389.8,634.6 L390.1,635.6 L390.3,634.7 L390.6,634.8 L390.8,637.0 L391.1,637.4 L391.3,635.9 L391.6,634.6 L391.8,635.5 L392.1,632.9 L392.3,632.3 L392.6,631.8 L392.8,631.2 L393.1,630.9 L393.3,632.6 L393.6,633.3 L393.8,633.2 L394.1,632.2 L394.3,629.7 L394.6,631.9 L394.8,628.7 L395.1,629.7 L395.3,630.1 L395.6,627.8 L395.8,628.7 L396.1,628.4 L396.3,625.6 L396.6,624.0 L396.8,626.1 L397.1,622.6 L397.3,621.5 L397.6,620.9 L397.8,622.1 L398.1,621.3 L398.3,618.2 L398.6,622.1 L398.8,622.8 L399.1,620.5 L399.3,621.5 L399.5,616.3 L399.6,620.5 L399.8,619.7 L400.1,619.5 L400.1,619.0 L400.3,616.5 L400.6,616.1 L400.7,617.0 L400.8,615.1 L401.1,617.8 L401.3,618.4 L401.6,617.2 L401.8,619.1 L401.9,617.9 L402.1,617.9 L402.3,618.3 L402.6,618.3 L402.8,620.9 L403.1,619.7 L403.3,619.3 L403.6,620.8 L403.8,622.6 L404.1,620.5 L404.3,620.8 L404.6,621.2 L404.8,622.5 L405.1,623.9 L405.3,624.4 L405.6,621.3 L405.8,623.7 L406.1,623.2 L406.3,623.6 L406.6,624.1 L406.8,626.4 L407.1,625.6 L407.3,628.6 L407.6,626.1 L407.8,626.5 L408.1,628.9 L408.3,626.5 L408.6,629.6 L408.8,629.9 L409.1,630.4 L409.3,629.8 L409.6,629.2 L409.8,630.9 L410.1,630.1 L410.3,632.2 L410.6,631.0 L410.8,630.7 L411.1,630.9 L411.3,634.2 L411.6,632.4 L411.8,632.8 L412.1,635.5 L412.3,634.1 L412.6,635.3 L412.8,637.7 L413.1,637.1 L413.3,635.0 L413.6,635.6 L413.8,637.3 L414.1,636.0 L414.3,638.7 L414.6,638.7 L414.8,638.4 L415.1,638.7 L415.3,638.0 L415.6,636.8 L415.8,635.4 L416.1,637.4 L416.3,636.3 L416.6,634.8 L416.8,633.8 L417.1,634.8 L417.3,632.7 L417.6,634.6 L417.8,635.2 L418.1,632.7 L418.3,633.3 L418.6,636.2 L418.8,633.6 L419.1,632.7 L419.3,632.5 L419.6,634.4 L419.8,634.3 L420.1,633.0 L420.3,631.5 L420.6,632.3 L420.8,631.6 L421.1,630.6 L421.3,630.5 L421.6,633.0 L421.8,630.4 L422.1,629.3 L422.3,628.7 L422.6,629.4 L422.8,628.9 L423.1,630.2 L423.3,630.0 L423.6,629.9 L423.8,627.3 L424.1,627.4 L424.3,628.7 L424.6,630.7 L424.8,629.3 L425.1,631.1 L425.3,631.8 L425.6,632.7 L425.8,630.9 L426.1,631.5 L426.3,633.0 L426.6,633.8 L426.8,634.0 L427.1,636.7 L427.3,635.5 L427.6,634.5 L427.8,637.7 L428.1,634.3 L428.3,636.4 L428.6,633.9 L428.8,635.3 L429.1,632.4 L429.3,633.1 L429.6,632.9 L429.8,629.2 L430.1,629.4 L430.3,629.0 L430.6,626.4 L430.8,624.6 L430.9,622.9 L431.1,621.1 L431.3,616.2 L431.6,608.1 L431.7,603.0 L431.8,601.0 L432.1,598.8 L432.3,588.4 L432.5,586.8 L432.6,586.9 L432.8,588.7 L433.1,595.5 L433.3,601.4 L433.6,609.4 L433.8,612.3 L434.1,617.4 L434.1,620.2 L434.3,621.1 L434.6,621.6 L434.8,623.3 L435.1,623.1 L435.3,624.3 L435.6,621.9 L435.8,624.0 L436.1,624.4 L436.3,623.8 L436.6,625.3 L436.8,626.5 L437.1,627.6 L437.3,628.2 L437.6,625.9 L437.8,626.7 L438.1,628.7 L438.3,627.4 L438.6,627.7 L438.8,629.2 L439.1,628.8 L439.3,625.8 L439.6,630.2 L439.8,630.1 L440.1,630.9 L440.3,634.1 L440.6,632.8 L440.8,632.0 L441.1,633.8 L441.3,635.0 L441.6,632.4 L441.8,633.6 L442.1,635.8 L442.3,635.2 L442.6,632.7 L442.8,635.1 L443.1,632.5 L443.3,634.0 L443.6,633.0 L443.8,634.4 L444.1,633.9 L444.3,635.7 L444.6,634.5 L444.8,634.7 L445.1,636.5 L445.3,636.5 L445.6,634.7 L445.8,635.3 L446.1,633.6 L446.3,636.8 L446.6,634.5 L446.8,636.9 L447.1,635.8 L447.3,636.1 L447.6,636.1 L447.8,635.4 L448.1,635.4 L448.3,630.7 L448.4,629.7 L448.6,628.2 L448.8,629.1 L449.0,627.6 L449.1,629.0 L449.3,629.6 L449.6,632.5 L449.6,631.7 L449.8,634.8 L450.1,638.4 L450.2,637.3 L450.3,639.3 L450.6,638.1 L450.8,639.3 L451.1,640.3 L451.3,639.0 L451.6,638.7 L451.8,639.9 L452.1,640.3 L452.3,640.3 L452.6,639.3 L452.8,639.4 L453.1,642.6 L453.3,643.5 L453.6,641.0 L453.8,643.4 L454.1,643.3 L454.3,641.9 L454.6,642.4 L454.8,642.4 L455.1,640.9 L455.3,639.5 L455.6,638.7 L455.8,637.7 L456.1,637.2 L456.3,637.5 L456.6,636.2 L456.8,636.4 L457.1,636.1 L457.3,634.7 L457.6,635.6 L457.8,632.8 L458.1,631.8 L458.3,631.6 L458.6,631.4 L458.8,631.3 L459.1,631.5 L459.1,630.4 L459.3,631.9 L459.6,630.0 L459.7,629.0 L459.8,629.9 L460.1,629.4 L460.3,626.6 L460.6,627.2 L460.8,631.3 L460.9,630.5 L461.1,630.9 L461.3,629.6 L461.5,630.7 L461.6,631.0 L461.8,631.5 L462.1,634.3 L462.3,632.7 L462.6,632.7 L462.8,633.3 L463.1,635.7 L463.3,635.0 L463.6,636.9 L463.8,634.6 L464.1,637.5 L464.3,636.3 L464.6,635.5 L464.8,636.7 L465.1,635.6 L465.3,636.8 L465.6,634.3 L465.8,632.3 L466.1,635.9 L466.3,633.6 L466.6,634.7 L466.8,633.4 L467.1,633.1 L467.3,634.2 L467.6,634.9 L467.8,634.2 L468.1,635.0 L468.3,634.6 L468.6,631.6 L468.8,634.2 L469.1,633.3 L469.3,635.5 L469.6,635.0 L469.8,633.1 L470.1,634.7 L470.3,634.3 L470.6,635.3 L470.8,633.7 L471.1,633.4 L471.3,635.0 L471.6,636.8 L471.8,635.4 L472.1,637.3 L472.3,634.8 L472.6,636.7 L472.8,637.5 L473.1,636.2 L473.3,636.6 L473.6,636.5 L473.8,636.0 L474.1,637.1 L474.3,633.3 L474.6,637.0 L474.8,638.0 L475.1,637.7 L475.3,638.0 L475.6,637.7 L475.8,637.0 L476.1,637.5 L476.3,640.2 L476.6,636.2 L476.8,637.8 L477.1,640.8 L477.3,639.6 L477.6,638.7 L477.8,640.7 L478.1,640.3 L478.3,640.1 L478.6,639.8 L478.8,642.2 L479.1,641.7 L479.3,642.3 L479.6,642.4 L479.8,640.2 L480.1,641.9 L480.3,646.4 L480.6,640.1 L480.8,641.0 L481.1,639.7 L481.3,640.5 L481.6,640.1 L481.8,638.5 L482.1,637.0 L482.3,635.5 L482.6,636.4 L482.8,641.0 L483.1,638.1 L483.3,636.8 L483.6,636.8 L483.8,637.8 L484.1,640.4 L484.3,635.2 L484.6,636.7 L484.8,635.1 L485.1,634.8 L485.3,636.6 L485.6,635.2 L485.8,634.4 L486.1,634.4 L486.3,634.9 L486.6,636.0 L486.8,637.8 L487.1,636.5 L487.3,638.2 L487.6,636.7 L487.8,636.8 L488.1,637.4 L488.3,636.8 L488.6,637.1 L488.8,638.4 L489.1,638.9 L489.3,639.7 L489.6,640.9 L489.8,639.4 L490.1,641.2 L490.3,641.5 L490.6,640.2 L490.8,643.6 L491.1,641.1 L491.3,644.1 L491.6,640.2 L491.8,642.7 L492.1,642.7 L492.3,640.6 L492.6,641.7 L492.8,640.2 L493.1,641.4 L493.3,641.2 L493.6,642.1 L493.8,639.4 L494.1,641.9 L494.3,641.9 L494.6,641.3 L494.8,641.7 L495.1,643.0 L495.3,640.0 L495.6,642.6 L495.8,640.2 L496.1,641.1 L496.3,639.0 L496.6,637.8 L496.8,638.5 L497.1,640.7 L497.3,637.0 L497.6,636.8 L497.8,638.7 L498.1,641.4 L498.3,639.0 L498.6,636.1 L498.8,632.8 L499.1,635.1 L499.3,637.4 L499.6,635.4 L499.8,635.6 L500.1,634.7 L500.3,637.2 L500.6,637.2 L500.8,636.0 L501.1,637.2 L501.3,636.7 L501.6,637.8 L501.8,634.8 L502.1,638.1 L502.3,636.6 L502.6,636.8 L502.8,637.7 L503.1,637.9 L503.3,638.1 L503.6,635.0 L503.8,635.5 L504.1,634.7 L504.3,634.7 L504.6,638.4 L504.8,634.9 L505.1,634.2 L505.3,636.7 L505.6,635.1 L505.8,635.2 L506.1,631.4 L506.3,636.6 L506.6,633.8 L506.8,635.8 L507.1,635.3 L507.3,632.4 L507.6,634.3 L507.8,634.2 L508.1,633.8 L508.3,635.6 L508.6,634.2 L508.8,636.2 L509.1,637.2 L509.3,634.4 L509.6,636.1 L509.8,635.6 L510.1,634.9 L510.3,635.6 L510.6,630.4 L510.8,635.0 L511.1,635.8 L511.3,635.6 L511.6,638.7 L511.8,633.8 L512.0,634.3 L512.3,636.2 L512.5,636.6 L512.8,636.7 L513.0,636.0 L513.3,636.7 L513.5,635.9 L513.8,636.4 L514.0,636.2 L514.3,638.2 L514.5,636.3 L514.8,637.9 L515.0,639.2 L515.3,636.6 L515.5,637.1 L515.8,638.2 L516.0,637.6 L516.3,639.3 L516.5,640.2 L516.8,639.0 L517.0,642.0 L517.3,642.1 L517.5,641.6 L517.8,640.8 L518.0,643.8 L518.3,644.0 L518.5,641.9 L518.8,642.7 L519.0,643.8 L519.3,641.4 L519.5,642.8 L519.8,643.8 L520.0,643.8 L520.3,643.8 L520.5,643.2 L520.8,641.6 L521.0,641.8 L521.3,642.7 L521.5,642.2 L521.8,640.8 L522.0,641.3 L522.3,643.2 L522.5,641.9 L522.8,644.9 L523.0,643.8 L523.3,641.9 L523.5,642.7 L523.8,642.8 L524.0,642.9 L524.3,642.4 L524.5,641.9 L524.8,643.6 L525.0,641.9 L525.3,642.4 L525.5,639.7 L525.8,641.7 L526.0,639.7 L526.3,639.8 L526.5,640.7 L526.8,640.2 L527.0,640.6 L527.3,642.3 L527.5,639.8 L527.8,641.6 L528.0,640.0 L528.3,640.8 L528.5,642.0 L528.8,639.0 L529.0,640.8 L529.3,641.2 L529.5,638.0 L529.8,638.3 L530.0,639.3 L530.3,638.5 L530.5,638.8 L530.8,637.6 L531.0,638.3 L531.3,639.0 L531.5,636.6 L531.8,637.1 L532.0,637.8 L532.3,635.7 L532.5,637.5 L532.8,636.4 L533.0,636.3 L533.3,635.5 L533.5,635.2 L533.8,638.3 L534.0,638.4 L534.3,636.4 L534.5,636.2 L534.8,638.0 L535.0,636.7 L535.3,636.7 L535.5,636.4 L535.8,635.7 L536.0,637.1 L536.3,635.7 L536.5,633.8 L536.8,635.1 L537.0,634.5 L537.3,632.6 L537.5,632.7 L537.8,633.6 L538.0,633.2 L538.3,635.0 L538.5,634.0 L538.8,633.9 L539.0,634.6 L539.3,633.0 L539.5,632.1 L539.8,633.0 L540.0,631.8 L540.3,632.5 L540.5,634.5 L540.8,634.2 L541.0,633.7 L541.3,632.2 L541.5,634.1 L541.8,633.6 L542.0,634.6 L542.3,632.4 L542.5,632.6 L542.8,631.1 L543.0,633.1 L543.3,633.1 L543.5,630.7 L543.8,632.0 L544.0,633.8 L544.3,634.2 L544.5,633.9 L544.8,631.8 L545.0,632.0 L545.3,633.1 L545.5,631.5 L545.8,631.8 L546.0,629.2 L546.3,628.3 L546.5,627.0 L546.8,629.6 L547.0,627.9 L547.1,626.5 L547.3,626.7 L547.5,626.3 L547.8,628.1 L547.8,626.9 L548.0,626.7 L548.3,624.7 L548.4,626.0 L548.5,625.4 L548.8,628.5 L549.0,626.4 L549.0,628.7 L549.3,625.4 L549.5,630.3 L549.7,628.0 L549.8,629.0 L550.0,630.1 L550.3,628.5 L550.5,630.7 L550.8,628.3 L551.0,630.7 L551.3,629.0 L551.5,630.8 L551.8,630.4 L552.0,627.8 L552.3,628.8 L552.5,631.3 L552.8,628.6 L553.0,630.9 L553.3,631.5 L553.5,632.3 L553.8,632.1 L554.0,632.9 L554.3,632.0 L554.5,633.6 L554.8,632.1 L555.0,631.7 L555.3,632.8 L555.5,634.0 L555.8,634.5 L556.0,634.6 L556.3,632.5 L556.5,635.6 L556.8,635.9 L557.0,635.2 L557.3,634.9 L557.5,635.8 L557.8,636.6 L558.0,635.1 L558.3,635.5 L558.5,634.2 L558.8,633.1 L559.0,634.7 L559.3,633.1 L559.5,633.4 L559.8,635.1 L560.0,634.0 L560.3,635.9 L560.5,634.0 L560.8,634.4 L561.0,633.5 L561.3,633.8 L561.5,635.6 L561.8,635.7 L562.0,634.2 L562.3,631.7 L562.5,631.2 L562.8,631.0 L563.0,631.1 L563.3,631.9 L563.5,631.0 L563.8,630.9 L564.0,631.8 L564.3,632.9 L564.5,633.1 L564.8,631.1 L565.0,635.3 L565.3,629.0 L565.5,630.4 L565.8,629.1 L566.0,630.7 L566.3,629.8 L566.5,628.3 L566.8,629.2 L567.0,625.9 L567.3,625.3 L567.5,626.1 L567.8,625.7 L568.0,626.3 L568.3,623.3 L568.5,625.6 L568.8,623.8 L569.0,624.0 L569.3,622.9 L569.5,623.9 L569.8,621.0 L570.0,622.2 L570.3,620.8 L570.5,618.2 L570.8,617.4 L571.0,615.9 L571.3,615.5 L571.5,615.3 L571.8,615.2 L571.9,612.6 L572.0,613.3 L572.3,611.4 L572.5,609.4 L572.8,612.0 L573.0,611.0 L573.2,610.9 L573.3,610.5 L573.5,607.9 L573.8,607.7 L574.0,606.3 L574.3,606.4 L574.5,606.5 L574.5,608.2 L574.8,609.5 L575.0,609.2 L575.3,610.3 L575.5,610.0 L575.8,609.8 L575.8,609.4 L576.0,610.9 L576.3,613.3 L576.5,612.7 L576.8,613.9 L577.0,618.0 L577.1,616.9 L577.3,619.4 L577.5,618.6 L577.8,623.3 L578.0,620.1 L578.3,621.4 L578.5,623.9 L578.8,624.3 L579.0,625.2 L579.3,626.7 L579.5,627.6 L579.8,628.8 L580.0,630.6 L580.3,628.8 L580.5,630.3 L580.8,629.7 L581.0,632.9 L581.3,632.3 L581.5,632.6 L581.8,632.2 L582.0,632.9 L582.3,634.1 L582.5,633.4 L582.8,632.8 L583.0,634.9 L583.3,635.1 L583.5,634.9 L583.8,635.6 L584.0,633.8 L584.3,635.0 L584.5,633.9 L584.8,635.7 L585.0,637.0 L585.3,636.3 L585.5,636.6 L585.8,636.3 L586.0,639.7 L586.3,637.5 L586.5,641.2 L586.8,640.6 L587.0,639.0 L587.3,641.2 L587.5,640.3 L587.8,642.2 L588.0,639.0 L588.3,642.5 L588.5,642.6 L588.8,642.9 L589.0,642.6 L589.3,643.1 L589.5,643.0 L589.8,640.8 L590.0,639.8 L590.3,642.3 L590.5,640.8 L590.8,642.4 L591.0,640.7 L591.3,642.9 L591.5,641.0 L591.8,643.5 L592.0,643.6 L592.3,641.8 L592.5,637.6 L592.8,643.5 L593.0,640.8 L593.3,641.6 L593.5,642.8 L593.8,641.9 L594.0,643.3 L594.3,641.8 L594.5,643.1 L594.8,642.1 L595.0,641.2 L595.3,641.7 L595.5,644.4 L595.8,644.6 L596.0,642.9 L596.3,641.4 L596.5,643.4 L596.8,642.9 L597.0,643.4 L597.3,643.8 L597.5,643.7 L597.8,645.1 L598.0,645.3 L598.3,643.3 L598.5,642.8 L598.8,644.6 L599.0,646.3 L599.3,645.3 L599.5,646.4 L599.8,643.7 L600.0,644.1 L600.3,644.4 L600.5,645.5 L600.8,645.5 L601.0,647.5 L601.3,646.7 L601.5,646.5 L601.8,648.4 L602.0,647.3 L602.3,647.2 L602.5,646.9 L602.8,645.3 L603.0,644.3 L603.3,644.7 L603.5,645.8 L603.8,645.8 L604.0,643.3 L604.3,642.3 L604.5,643.6 L604.8,645.4 L605.0,643.4 L605.3,645.4 L605.5,645.5 L605.8,645.2 L606.0,643.8 L606.3,645.1 L606.5,644.2 L606.8,644.9 L607.0,641.1 L607.3,643.4 L607.5,645.3 L607.8,644.2 L608.0,643.3 L608.3,641.7 L608.5,642.3 L608.8,643.5 L609.0,644.1 L609.3,642.8 L609.5,642.3 L609.8,642.7 L610.0,642.1 L610.3,642.5 L610.5,644.2 L610.8,644.7 L611.0,643.8 L611.3,643.1 L611.5,645.2 L611.8,643.2 L612.0,645.1 L612.3,644.5 L612.5,643.6 L612.8,643.7 L613.0,647.0 L613.3,644.0 L613.5,643.6 L613.8,642.8 L614.0,645.2 L614.3,642.3 L614.5,643.7 L614.8,643.4 L615.0,642.1 L615.3,643.3 L615.5,643.0 L615.8,642.0 L616.0,641.9 L616.3,644.1 L616.5,641.7 L616.8,643.5 L617.0,644.4 L617.3,642.6 L617.5,642.6 L617.8,641.0 L618.0,643.7 L618.3,642.4 L618.5,641.9 L618.8,642.3 L619.0,641.5 L619.3,642.4 L619.5,640.1 L619.8,643.0 L620.0,639.9 L620.3,640.4 L620.5,642.3 L620.8,643.3 L621.0,643.2 L621.3,642.6 L621.5,642.1 L621.8,641.0 L622.0,642.7 L622.3,641.8 L622.5,646.5 L622.8,643.8 L623.0,641.4 L623.3,640.2 L623.5,642.1 L623.8,642.4 L624.0,641.6 L624.3,642.3 L624.5,642.9 L624.8,640.6 L625.0,642.1 L625.3,642.0 L625.5,640.9 L625.8,644.2 L626.0,643.0 L626.3,642.9 L626.5,643.8 L626.8,643.5 L627.0,643.4 L627.3,643.9 L627.5,643.7 L627.8,643.6 L628.0,643.8 L628.3,645.1 L628.5,642.2 L628.8,644.4 L629.0,645.0 L629.3,644.5 L629.5,641.8 L629.8,647.2 L630.0,643.5 L630.3,641.4 L630.5,641.7 L630.8,647.0 L631.0,642.2 L631.3,643.0 L631.5,644.8 L631.8,644.3 L632.0,642.4 L632.3,644.8 L632.5,644.9 L632.8,644.7 L633.0,644.3 L633.3,645.6 L633.5,645.4 L633.8,645.7 L634.0,644.3 L634.3,647.5 L634.5,646.6 L634.8,643.4 L635.0,644.1 L635.3,644.4 L635.5,644.9 L635.8,644.4 L636.0,646.6 L636.3,647.0 L636.5,645.5 L636.8,645.6 L637.0,645.6 L637.3,644.5 L637.5,646.9 L637.8,647.2 L638.0,644.2 L638.3,645.6 L638.5,645.7 L638.8,644.6 L639.0,644.1 L639.3,643.5 L639.5,643.7 L639.8,644.3 L640.0,644.8 L640.3,647.2 L640.5,645.0 L640.8,646.9 L641.0,648.3 L641.3,645.8 L641.5,647.2 L641.8,648.0 L642.0,648.6 L642.3,647.9 L642.5,643.7 L642.8,647.1 L643.0,648.1 L643.3,645.6 L643.5,647.0 L643.8,645.4 L644.0,644.7 L644.3,646.1 L644.5,647.4 L644.8,647.0 L645.0,645.6 L645.3,645.7 L645.5,646.1 L645.8,647.2 L646.0,644.4 L646.3,645.6 L646.5,645.1 L646.8,648.2 L647.0,647.1 L647.3,647.4 L647.5,645.6 L647.8,645.7 L648.0,645.3 L648.3,646.0 L648.5,645.4 L648.8,645.2 L649.0,645.5 L649.3,646.3 L649.5,643.9 L649.8,645.9 L650.0,646.7 L650.3,646.5 L650.5,644.2 L650.8,642.8 L651.0,643.5 L651.3,643.0 L651.5,641.3 L651.8,643.8 L652.0,642.4 L652.3,640.3 L652.5,641.7 L652.5,642.4 L652.8,641.3 L653.0,641.9 L653.1,638.9 L653.3,640.1 L653.5,638.3 L653.7,640.0 L653.8,637.7 L654.0,639.7 L654.3,639.7 L654.5,640.1 L654.8,640.2 L654.9,642.0 L655.0,642.9 L655.3,640.6 L655.5,639.8 L655.8,641.7 L656.0,641.0 L656.3,641.0 L656.5,639.2 L656.8,638.7 L657.0,639.8 L657.3,640.4 L657.5,641.0 L657.8,639.5 L658.0,638.8 L658.3,640.6 L658.5,641.1 L658.8,640.9 L659.0,638.1 L659.3,637.8 L659.5,640.7 L659.8,640.5 L660.0,638.8 L660.3,638.5 L660.5,639.3 L660.8,639.6 L661.0,639.4 L661.3,640.0 L661.5,639.9 L661.8,640.6 L662.0,643.2 L662.3,643.7 L662.5,640.7 L662.8,642.3 L663.0,642.5 L663.3,642.9 L663.5,642.4 L663.8,644.8 L664.0,643.2 L664.3,642.2 L664.5,644.2 L664.8,642.7 L665.0,642.6 L665.3,644.3 L665.5,643.4 L665.8,643.5 L666.0,644.5 L666.3,642.6 L666.5,643.1 L666.8,644.1 L667.0,644.2 L667.3,644.3 L667.5,645.3 L667.8,643.6 L668.0,643.8 L668.3,642.2 L668.5,643.0 L668.8,642.6 L669.0,641.6 L669.3,643.8 L669.5,641.1 L669.8,643.3 L670.0,644.7 L670.3,644.2 L670.5,642.7 L670.8,645.2" fill="none" stroke="#0474ff" stroke-width="1.2" stroke-linejoin="round"/>
<ellipse cx="77.80" cy="447.30" rx="3.90" ry="3.30" fill="#0474ff"/><ellipse cx="72.90" cy="454.00" rx="3.20" ry="3.80" fill="#0474ff"/><ellipse cx="82.70" cy="454.00" rx="3.20" ry="3.80" fill="#0474ff"/><rect x="74.80" y="450.50" width="6.00" height="4.50" fill="#0474ff"/><path d="M76.80,452.00 L78.80,452.00 L79.20,460.00 L76.40,460.00 Z" fill="#0474ff"/>
<path d="M187.0,550.9 L193.5,559.4 L187.0,567.9 L180.5,559.4 Z" fill="#0474ff"/>
<ellipse cx="202.40" cy="561.00" rx="3.90" ry="3.30" fill="#0474ff"/><ellipse cx="197.50" cy="567.70" rx="3.20" ry="3.80" fill="#0474ff"/><ellipse cx="207.30" cy="567.70" rx="3.20" ry="3.80" fill="#0474ff"/><rect x="199.40" y="564.20" width="6.00" height="4.50" fill="#0474ff"/><path d="M201.40,565.70 L203.40,565.70 L203.80,573.70 L201.00,573.70 Z" fill="#0474ff"/>
<path d="M242.8,572.8 C240.1,576.4 235.1,579.1 236.0,583.2 L236.0,583.2 C236.9,586.3 241.0,585.4 242.8,582.7 C244.6,585.4 248.7,586.3 249.6,583.2 Z" fill="#0474ff"/><path d="M242.8,572.8 C245.5,576.4 250.5,579.1 249.6,583.2 Z" fill="#0474ff"/><path d="M242.0,581.8 L243.6,581.8 L244.0,587.2 L241.6,587.2 Z" fill="#0474ff"/>
<path d="M257.0,568.5 L264.0,577.0 L257.0,585.5 L250.0,577.0 Z" fill="#0474ff"/>
<polygon points="271.0,570.5 272.9,575.0 277.7,575.3 274.0,578.5 275.1,583.2 271.0,580.6 266.9,583.2 268.0,578.5 264.3,575.3 269.1,575.0" fill="#0474ff"/>
<path d="M269.7,488.6 L283.9,488.6 L276.8,500.8 Z" fill="#0474ff"/>
<polygon points="277.5,504.3 279.4,508.9 284.3,509.3 280.6,512.5 281.7,517.3 277.5,514.7 273.3,517.3 274.4,512.5 270.7,509.3 275.6,508.9" fill="#0474ff"/>
<path d="M291.7,413.4 L299.5,427.4 L283.9,427.4 Z" fill="#0474ff"/>
<path d="M293.0,501.8 L305.8,501.8 L299.4,513.5 Z" fill="#0474ff"/>
<path d="M312.2,578.4 L319.4,592.4 L304.9,592.4 Z" fill="#0474ff"/>
<path d="M322.0,554.6 L330.5,567.9 L313.5,567.9 Z" fill="#0474ff"/>
<ellipse cx="343.00" cy="588.30" rx="3.90" ry="3.30" fill="#0474ff"/><ellipse cx="338.10" cy="595.00" rx="3.20" ry="3.80" fill="#0474ff"/><ellipse cx="347.90" cy="595.00" rx="3.20" ry="3.80" fill="#0474ff"/><rect x="340.00" y="591.50" width="6.00" height="4.50" fill="#0474ff"/><path d="M342.00,593.00 L344.00,593.00 L344.40,601.00 L341.60,601.00 Z" fill="#0474ff"/>
<polygon points="357.6,603.0 359.5,607.5 364.3,607.8 360.6,611.0 361.7,615.7 357.6,613.1 353.5,615.7 354.6,611.0 350.9,607.8 355.7,607.5" fill="#0474ff"/>
<polygon points="370.0,588.0 371.9,592.5 376.7,592.8 373.0,596.0 374.1,600.7 370.0,598.1 365.9,600.7 367.0,596.0 363.3,592.8 368.1,592.5" fill="#0474ff"/>
<path d="M383.4,513.0 L390.8,526.0 L376.0,526.0 Z" fill="#0474ff"/>
<path d="M434.5,568.0 C433.5,563.5 426.5,563.0 426.7,569.0 C426.9,573.0 431.5,576.0 434.5,580.0 C437.5,576.0 442.1,573.0 442.3,569.0 C442.5,563.0 435.5,563.5 434.5,568.0 Z" fill="#0474ff"/>
<path d="M450.0,609.1 L457.0,617.6 L450.0,626.1 L443.0,617.6 Z" fill="#0474ff"/>
<polygon points="472.6,613.3 474.5,617.9 479.4,618.3 475.7,621.5 476.8,626.3 472.6,623.7 468.4,626.3 469.5,621.5 465.8,618.3 470.7,617.9" fill="#0474ff"/>
<path d="M526.3,617.6 L539.7,617.6 L533.0,628.4 Z" fill="#0474ff"/>
<polygon points="550.2,611.2 552.1,615.8 557.0,616.2 553.3,619.4 554.4,624.2 550.2,621.6 546.0,624.2 547.1,619.4 543.4,616.2 548.3,615.8" fill="#0474ff"/>
<path d="M576.5,594.9 L584.0,607.1 L569.0,607.1 Z" fill="#0474ff"/>
<path d="M652.6,624.0 L660.2,638.4 L645.0,638.4 Z" fill="#0474ff"/>
<path d="M337.7,360.4 L344.9,368.4 L337.7,376.4 L330.4,368.4 Z" fill="#0474ff"/>
<ellipse cx="337.50" cy="403.51" rx="4.14" ry="3.51" fill="#0474ff"/><ellipse cx="332.29" cy="410.62" rx="3.40" ry="4.04" fill="#0474ff"/><ellipse cx="342.71" cy="410.62" rx="3.40" ry="4.04" fill="#0474ff"/><rect x="334.31" y="406.91" width="6.38" height="4.78" fill="#0474ff"/><path d="M336.44,408.50 L338.56,408.50 L338.99,417.00 L336.01,417.00 Z" fill="#0474ff"/>
<path d="M328.5,440.2 L345.5,440.2 L337.0,454.8 Z" fill="#0474ff"/>
<circle cx="335.6" cy="494.9" r="7.0" fill="#0474ff"/>
<path d="M529.8,364.2 C528.8,359.7 521.7,359.2 521.9,365.3 C522.1,369.3 526.8,372.4 529.8,376.4 C532.8,372.4 537.5,369.3 537.7,365.3 C537.9,359.2 530.8,359.7 529.8,364.2 Z" fill="#0474ff"/>
<polygon points="529.0,401.2 531.3,406.8 537.4,407.3 532.8,411.2 534.2,417.1 529.0,414.0 523.8,417.1 525.2,411.2 520.6,407.3 526.7,406.8" fill="#0474ff"/>
<path d="M527.2,440.4 C524.1,444.5 518.4,447.6 519.5,452.2 L519.5,452.2 C520.5,455.8 525.1,454.8 527.2,451.7 C529.3,454.8 533.9,455.8 534.9,452.2 Z" fill="#0474ff"/><path d="M527.2,440.4 C530.3,444.5 536.0,447.6 534.9,452.2 Z" fill="#0474ff"/><path d="M526.3,450.7 L528.1,450.7 L528.5,456.9 L525.9,456.9 Z" fill="#0474ff"/>
<path d="M530.4,486.5 L539.4,501.5 L521.4,501.5 Z" fill="#0474ff"/>
<circle cx="352.9" cy="364.5" r="1.6" fill="#0474ff"/><circle cx="352.9" cy="375.7" r="1.6" fill="#0474ff"/>
<circle cx="545.3" cy="364.5" r="1.6" fill="#0474ff"/><circle cx="545.3" cy="375.7" r="1.6" fill="#0474ff"/>
<circle cx="352.9" cy="404.9" r="1.6" fill="#0474ff"/><circle cx="352.9" cy="415.6" r="1.6" fill="#0474ff"/>
<circle cx="543.8" cy="404.9" r="1.6" fill="#0474ff"/><circle cx="543.8" cy="415.6" r="1.6" fill="#0474ff"/>
<circle cx="351.5" cy="444.5" r="1.6" fill="#0474ff"/><circle cx="351.5" cy="456.2" r="1.6" fill="#0474ff"/>
<circle cx="542.5" cy="444.5" r="1.6" fill="#0474ff"/><circle cx="542.5" cy="456.2" r="1.6" fill="#0474ff"/>
<circle cx="352.2" cy="489.7" r="1.6" fill="#0474ff"/><circle cx="352.2" cy="499.9" r="1.6" fill="#0474ff"/>
<circle cx="545.2" cy="489.7" r="1.6" fill="#0474ff"/><circle cx="545.2" cy="499.9" r="1.6" fill="#0474ff"/>
<text x="364.0" y="376.9" font-size="24.4" fill="#0474ff" font-weight="normal" text-anchor="start" stroke="#fff" stroke-width="0.30">Calcite</text>
<text x="364.0" y="416.3" font-size="24.4" fill="#0474ff" font-weight="normal" text-anchor="start" stroke="#fff" stroke-width="0.30">Srebrodolskite</text>
<text x="364.5" y="456.9" font-size="24.4" fill="#0474ff" font-weight="normal" text-anchor="start" stroke="#fff" stroke-width="0.30">Hatrurite</text>
<text x="366.0" y="502.1" font-size="24.4" fill="#0474ff" font-weight="normal" text-anchor="start" stroke="#fff" stroke-width="0.30">Mayenite</text>
<text x="555.7" y="376.9" font-size="24.4" fill="#0474ff" font-weight="normal" text-anchor="start" stroke="#fff" stroke-width="0.30">Portlandite</text>
<text x="554.4" y="416.3" font-size="24.4" fill="#0474ff" font-weight="normal" text-anchor="start" stroke="#fff" stroke-width="0.30">Larnite</text>
<text x="551.7" y="456.9" font-size="24.4" fill="#0474ff" font-weight="normal" text-anchor="start" stroke="#fff" stroke-width="0.30">Quartz</text>
<text x="555.7" y="502.1" font-size="24.4" fill="#0474ff" font-weight="normal" text-anchor="start" stroke="#fff" stroke-width="0.30">RO phase</text>
<path d="M2.9,945.9 L3.4,946.1 L3.9,946.2 L4.4,946.7 L4.9,946.6 L5.4,946.9 L5.9,946.7 L6.4,946.7 L6.9,947.3 L7.4,947.7 L7.9,947.8 L8.4,947.4 L8.9,948.0 L9.4,947.7 L9.9,947.7 L10.4,948.4 L10.9,948.5 L11.4,947.5 L11.9,947.6 L12.4,948.8 L12.9,947.6 L13.4,947.8 L13.9,948.4 L14.4,947.9 L14.9,948.4 L15.4,948.0 L15.9,948.4 L16.4,948.9 L16.9,948.6 L17.4,948.9 L17.9,949.5 L18.4,949.6 L18.9,949.7 L19.4,950.4 L19.9,949.8 L20.4,949.0 L20.9,949.8 L21.4,949.4 L21.9,949.8 L22.4,950.4 L22.9,950.9 L23.4,950.2 L23.9,950.2 L24.4,950.5 L24.9,950.6 L25.4,950.5 L25.9,951.4 L26.4,951.0 L26.9,952.0 L27.4,952.5 L27.9,951.9 L28.4,952.6 L28.9,952.3 L29.4,952.3 L29.9,952.2 L30.4,952.5 L30.9,952.1 L31.4,952.8 L31.9,952.6 L32.4,952.7 L32.9,952.5 L33.4,953.5 L33.9,952.9 L34.4,953.0 L34.9,952.9 L35.4,952.5 L35.9,952.8 L36.4,953.2 L36.9,953.4 L37.4,952.4 L37.9,953.0 L38.4,952.9 L38.9,953.8 L39.4,953.8 L39.9,953.7 L40.4,954.3 L40.9,953.4 L41.4,953.2 L41.9,953.7 L42.4,953.1 L42.9,953.7 L43.4,953.2 L43.9,953.1 L44.4,954.2 L44.9,953.7 L45.4,953.7 L45.9,954.6 L46.4,954.6 L46.9,954.2 L47.4,955.4 L47.9,954.8 L48.4,955.0 L48.9,954.8 L49.4,955.7 L49.9,955.5 L50.4,955.7 L50.9,955.4 L51.4,954.8 L51.9,954.9 L52.4,955.6 L52.9,954.9 L53.4,955.5 L53.9,955.1 L54.4,956.2 L54.9,955.3 L55.4,955.4 L55.9,956.3 L56.4,955.6 L56.9,956.6 L57.4,955.9 L57.9,956.7 L58.4,956.4 L58.9,955.5 L59.4,956.3 L59.9,956.1 L60.4,956.0 L60.9,956.0 L61.4,955.7 L61.9,956.7 L62.4,956.2 L62.9,957.1 L63.4,956.8 L63.9,956.8 L64.4,957.3 L64.9,958.3 L65.4,957.9 L65.9,957.7 L66.4,957.6 L66.9,957.2 L67.4,956.8 L67.9,956.9 L68.4,956.3 L68.9,952.5 L69.0,950.5 L69.4,938.2 L69.5,932.2 L69.9,918.4 L70.0,917.8 L70.4,928.9 L70.5,932.6 L70.9,948.9 L71.0,950.5 L71.4,956.7 L71.9,957.4 L72.4,957.4 L72.9,958.3 L73.4,957.6 L73.9,958.5 L74.4,959.0 L74.9,959.6 L75.4,959.8 L75.9,960.2 L76.4,959.8 L76.9,959.7 L77.4,959.9 L77.9,959.9 L78.4,959.6 L78.9,960.0 L79.4,959.4 L79.9,959.9 L80.4,960.8 L80.9,961.0 L81.4,961.3 L81.9,960.9 L82.4,960.6 L82.9,961.1 L83.4,961.9 L83.9,961.3 L84.4,961.8 L84.9,961.3 L85.4,961.3 L85.9,961.5 L86.4,961.7 L86.9,961.8 L87.4,962.2 L87.9,961.6 L88.4,962.3 L88.9,962.1 L89.4,962.7 L89.9,961.6 L90.4,962.1 L90.9,962.8 L91.4,962.5 L91.9,962.8 L92.4,962.0 L92.9,963.4 L93.4,961.8 L93.9,961.4 L94.4,961.9 L94.9,962.2 L95.4,962.9 L95.9,962.2 L96.4,961.7 L96.9,961.3 L97.4,961.4 L97.9,961.0 L98.4,960.1 L98.9,957.8 L99.4,954.0 L99.9,940.1 L100.2,921.5 L100.4,901.8 L100.9,829.5 L100.9,828.1 L101.4,758.6 L101.6,750.7 L101.9,769.2 L102.3,829.2 L102.4,844.7 L102.9,912.3 L103.0,922.3 L103.4,945.3 L103.9,956.9 L104.4,960.6 L104.9,961.9 L105.4,962.1 L105.9,962.9 L106.4,963.7 L106.9,964.0 L107.4,964.4 L107.9,964.1 L108.4,963.8 L108.9,964.4 L109.4,964.8 L109.9,964.5 L110.4,964.8 L110.9,965.3 L111.4,965.4 L111.9,964.7 L112.4,965.6 L112.9,965.4 L113.4,965.5 L113.9,965.8 L114.4,965.2 L114.9,965.8 L115.4,965.6 L115.9,966.8 L116.4,967.2 L116.9,967.2 L117.4,966.6 L117.9,967.6 L118.4,967.4 L118.9,967.2 L119.4,967.3 L119.9,966.6 L120.4,966.8 L120.9,966.9 L121.4,967.1 L121.9,967.7 L122.4,967.4 L122.9,967.7 L123.4,967.5 L123.9,967.8 L124.4,968.2 L124.9,967.8 L125.4,967.7 L125.9,968.5 L126.4,968.6 L126.9,968.1 L127.4,968.9 L127.9,968.6 L128.4,968.3 L128.9,969.1 L129.4,968.9 L129.9,968.3 L130.4,969.0 L130.9,968.8 L131.4,968.7 L131.9,968.6 L132.4,968.9 L132.9,969.2 L133.4,969.7 L133.9,969.8 L134.4,970.0 L134.9,969.7 L135.4,968.4 L135.9,969.8 L136.4,970.1 L136.9,970.4 L137.4,970.3 L137.9,969.8 L138.4,970.7 L138.9,970.2 L139.4,971.1 L139.9,970.6 L140.4,970.4 L140.9,971.0 L141.4,970.5 L141.9,971.0 L142.4,969.2 L142.9,971.5 L143.4,971.5 L143.9,971.9 L144.4,971.6 L144.9,972.5 L145.4,971.7 L145.9,971.9 L146.4,971.6 L146.9,972.1 L147.4,972.2 L147.9,972.0 L148.4,972.0 L148.9,972.0 L149.4,972.4 L149.9,972.6 L150.4,973.0 L150.9,971.3 L151.4,972.9 L151.9,973.2 L152.4,973.4 L152.9,973.3 L153.4,973.2 L153.9,973.0 L154.4,973.5 L154.9,972.9 L155.4,973.5 L155.9,973.5 L156.4,974.2 L156.9,973.6 L157.4,973.4 L157.9,973.6 L158.3,972.6 L158.4,971.1 L158.7,967.7 L158.9,966.5 L159.1,964.6 L159.4,966.9 L159.5,967.9 L159.9,971.4 L159.9,971.6 L160.4,972.7 L160.9,972.9 L161.4,973.5 L161.9,973.2 L162.4,972.3 L162.9,968.4 L163.0,966.1 L163.4,955.4 L163.5,951.9 L163.9,940.2 L164.0,939.5 L164.4,947.7 L164.5,952.6 L164.9,964.9 L165.0,967.5 L165.4,972.4 L165.9,973.8 L166.4,974.2 L166.9,974.4 L167.4,974.9 L167.9,974.4 L168.4,974.5 L168.9,974.7 L169.4,975.1 L169.9,975.8 L170.4,975.5 L170.9,975.5 L171.4,975.1 L171.9,975.3 L172.4,975.8 L172.9,975.1 L173.4,975.4 L173.9,975.4 L174.4,975.0 L174.9,975.6 L175.4,976.1 L175.9,976.2 L176.4,976.2 L176.9,975.8 L177.4,976.7 L177.9,976.3 L178.4,975.7 L178.9,976.4 L179.4,975.6 L179.9,976.3 L180.4,975.6 L180.9,976.2 L181.4,975.3 L181.9,976.0 L182.4,977.0 L182.9,976.3 L183.4,976.6 L183.9,977.4 L184.4,977.3 L184.9,976.5 L185.4,976.7 L185.9,976.5 L186.4,976.4 L186.9,977.1 L187.4,976.9 L187.9,976.3 L188.4,976.3 L188.9,977.2 L189.4,976.8 L189.9,976.7 L190.4,977.2 L190.9,976.4 L191.4,976.2 L191.9,976.3 L192.4,976.1 L192.9,976.5 L193.4,976.9 L193.9,976.6 L194.4,978.5 L194.9,977.4 L195.4,977.7 L195.9,977.7 L196.4,977.6 L196.9,977.5 L197.4,978.3 L197.9,978.6 L198.4,978.0 L198.9,978.6 L199.4,978.0 L199.9,978.3 L200.4,977.6 L200.9,976.9 L201.4,977.2 L201.9,977.1 L202.4,977.5 L202.9,978.1 L203.4,978.3 L203.9,978.4 L204.4,977.8 L204.9,978.7 L205.4,978.6 L205.9,977.6 L206.4,977.5 L206.9,977.8 L207.4,978.1 L207.9,977.9 L208.4,977.8 L208.9,978.1 L209.4,977.2 L209.9,977.2 L210.4,976.7 L210.9,977.1 L211.4,977.1 L211.9,976.6 L212.4,975.9 L212.9,973.8 L213.4,969.7 L213.8,952.1 L213.9,948.5 L214.4,897.4 L214.4,894.6 L214.9,848.1 L215.0,846.0 L215.4,872.8 L215.6,895.2 L215.9,932.2 L216.2,953.1 L216.4,964.8 L216.9,974.6 L217.4,976.1 L217.9,977.8 L218.4,978.3 L218.9,978.8 L219.4,978.8 L219.9,979.6 L220.4,980.0 L220.9,979.5 L221.4,979.6 L221.9,979.3 L222.4,979.1 L222.9,978.8 L223.4,978.8 L223.9,978.6 L224.4,979.2 L224.9,979.1 L225.4,979.2 L225.9,978.7 L226.4,979.4 L226.9,979.5 L227.4,979.2 L227.9,979.6 L228.4,978.7 L228.9,980.3 L229.4,979.3 L229.9,979.9 L230.4,980.0 L230.9,980.3 L231.4,980.0 L231.9,980.4 L232.4,978.8 L232.9,979.8 L233.4,980.4 L233.9,979.8 L234.4,980.3 L234.9,980.4 L235.4,980.5 L235.9,979.8 L236.4,980.6 L236.9,980.6 L237.4,980.6 L237.9,980.3 L238.4,981.3 L238.9,981.0 L239.4,981.1 L239.9,980.4 L240.4,980.3 L240.9,980.2 L241.4,980.6 L241.9,981.2 L242.4,980.5 L242.9,980.4 L243.4,980.5 L243.9,980.5 L244.4,980.5 L244.9,980.4 L245.4,981.0 L245.9,980.7 L246.4,980.7 L246.9,980.5 L247.4,980.9 L247.9,980.7 L248.4,980.7 L248.9,979.9 L249.4,980.1 L249.9,979.9 L250.4,979.9 L250.9,979.1 L251.4,975.4 L251.4,974.8 L251.9,962.5 L251.9,961.3 L252.4,950.7 L252.9,961.5 L252.9,962.2 L253.4,974.2 L253.4,975.5 L253.9,974.4 L254.4,970.7 L254.9,956.1 L255.2,936.1 L255.4,913.7 L255.9,836.4 L255.9,836.0 L256.4,761.3 L256.6,752.5 L256.9,772.0 L257.3,835.6 L257.4,853.0 L257.9,924.6 L258.0,934.9 L258.4,959.7 L258.9,971.9 L259.4,975.4 L259.9,976.5 L260.4,977.7 L260.9,978.3 L261.4,979.1 L261.9,978.9 L262.4,979.2 L262.9,979.8 L263.4,980.2 L263.9,980.3 L264.4,979.4 L264.9,979.7 L265.4,980.8 L265.9,980.7 L266.4,980.9 L266.9,981.2 L267.4,980.9 L267.9,980.2 L268.4,979.4 L268.4,978.2 L268.9,974.3 L268.9,974.2 L269.4,971.0 L269.9,975.0 L269.9,975.0 L270.4,978.2 L270.4,978.6 L270.9,979.4 L271.4,979.9 L271.9,980.2 L272.4,979.6 L272.9,979.3 L273.4,979.2 L273.9,978.6 L274.4,978.1 L274.9,976.2 L275.1,973.3 L275.4,963.5 L275.6,956.6 L275.9,943.7 L276.0,943.0 L276.4,955.6 L276.4,957.5 L276.9,960.4 L276.9,958.6 L277.2,942.3 L277.4,923.0 L277.9,856.4 L277.9,856.1 L278.4,791.9 L278.6,783.6 L278.9,800.6 L279.3,856.1 L279.4,870.4 L279.9,932.2 L280.0,941.9 L280.4,965.1 L280.9,973.2 L281.4,977.1 L281.9,978.3 L282.4,979.1 L282.9,979.5 L283.4,980.4 L283.9,981.1 L284.4,980.4 L284.9,980.6 L285.4,981.5 L285.9,981.5 L286.4,981.7 L286.9,981.3 L287.4,981.2 L287.9,981.3 L288.4,981.4 L288.9,981.3 L289.4,978.9 L289.4,979.1 L289.9,972.5 L289.9,971.8 L290.4,966.0 L290.9,972.2 L290.9,972.8 L291.4,979.5 L291.4,979.9 L291.9,982.6 L292.4,983.0 L292.9,983.0 L293.4,982.3 L293.9,983.4 L294.4,983.2 L294.9,983.1 L295.4,983.5 L295.9,983.5 L296.4,983.3 L296.9,983.7 L297.4,983.9 L297.9,983.9 L298.4,983.1 L298.9,983.2 L299.4,984.2 L299.9,984.2 L300.4,983.3 L300.9,983.7 L301.4,983.4 L301.9,983.5 L302.4,983.8 L302.9,983.9 L303.4,983.4 L303.9,983.8 L304.4,983.4 L304.9,983.8 L305.4,983.1 L305.9,983.6 L306.4,983.4 L306.9,983.6 L307.4,984.2 L307.9,984.2 L308.4,984.5 L308.9,984.4 L309.4,984.5 L309.9,984.5 L310.4,984.6 L310.9,984.5 L311.4,983.7 L311.9,984.5 L312.4,984.2 L312.9,983.4 L313.4,983.3 L313.9,983.6 L314.4,984.2 L314.9,983.6 L315.4,983.9 L315.9,983.2 L316.4,984.0 L316.9,983.7 L317.4,984.2 L317.9,984.8 L318.4,984.4 L318.9,984.2 L319.4,984.8 L319.9,984.7 L320.4,984.0 L320.9,983.7 L321.4,984.0 L321.9,983.7 L322.4,984.4 L322.9,984.0 L323.4,984.0 L323.9,983.9 L324.4,984.4 L324.9,984.3 L325.4,984.8 L325.9,984.2 L326.4,985.4 L326.9,984.9 L327.4,984.9 L327.9,985.7 L328.4,985.4 L328.9,985.6 L329.4,984.7 L329.9,985.4 L330.4,985.4 L330.9,984.8 L331.4,985.1 L331.9,985.8 L332.4,985.6 L332.9,985.5 L333.4,985.3 L333.9,985.1 L334.4,985.8 L334.9,984.8 L335.4,985.2 L335.9,984.9 L336.4,984.8 L336.9,984.8 L337.4,984.9 L337.9,985.0 L338.4,985.2 L338.9,985.7 L339.4,985.7 L339.9,985.5 L340.4,986.2 L340.9,985.9 L341.4,986.1 L341.9,986.3 L342.4,985.1 L342.9,986.1 L343.4,985.4 L343.9,985.5 L344.4,984.5 L344.9,983.1 L345.0,982.9 L345.4,978.2 L345.5,976.9 L345.9,971.7 L346.0,971.8 L346.4,975.7 L346.5,977.2 L346.9,982.0 L347.0,982.5 L347.4,985.5 L347.9,985.7 L348.4,986.5 L348.9,985.8 L349.4,986.0 L349.9,985.7 L350.4,985.5 L350.9,985.9 L351.4,985.7 L351.9,987.0 L352.4,985.7 L352.9,986.1 L353.4,985.1 L353.9,985.2 L354.4,984.7 L354.9,984.8 L355.4,985.1 L355.9,985.5 L356.4,984.7 L356.9,984.7 L357.4,985.4 L357.8,983.6 L357.9,982.8 L358.3,978.8 L358.4,977.5 L358.8,974.9 L358.9,975.5 L359.3,978.6 L359.4,979.8 L359.8,982.5 L359.9,983.6 L360.4,984.3 L360.9,984.5 L361.4,984.4 L361.9,984.6 L362.4,984.6 L362.9,984.9 L363.4,984.5 L363.9,984.8 L364.4,985.4 L364.9,985.0 L365.4,984.1 L365.9,984.7 L366.4,984.4 L366.9,984.2 L367.4,984.4 L367.9,984.9 L368.4,984.4 L368.9,984.8 L369.4,985.0 L369.9,984.8 L370.4,985.1 L370.9,985.4 L371.4,985.6 L371.9,985.0 L372.4,985.3 L372.9,985.5 L373.4,985.6 L373.9,984.9 L374.4,984.6 L374.9,983.7 L375.3,982.2 L375.4,982.8 L375.8,978.8 L375.9,978.4 L376.3,976.5 L376.4,976.4 L376.8,978.8 L376.9,980.2 L377.3,982.6 L377.4,983.3 L377.9,984.0 L378.4,984.7 L378.9,984.7 L379.4,984.3 L379.9,985.3 L380.4,984.6 L380.9,985.5 L381.4,985.4 L381.9,985.3 L382.4,984.8 L382.9,984.8 L383.4,983.0 L383.9,983.0 L384.3,978.4 L384.4,977.3 L384.9,961.4 L384.9,961.0 L385.4,946.8 L385.5,945.4 L385.9,953.2 L386.1,959.8 L386.4,971.6 L386.7,977.3 L386.9,980.9 L387.4,983.8 L387.9,982.6 L388.0,981.7 L388.4,976.4 L388.5,977.0 L388.9,969.3 L389.3,975.1 L389.4,976.0 L389.8,981.9 L389.9,983.1 L390.4,984.9 L390.9,985.2 L391.4,985.8 L391.9,985.8 L392.4,986.0 L392.9,984.3 L393.4,985.9 L393.9,985.9 L394.4,985.7 L394.9,985.8 L395.4,985.3 L395.9,985.9 L396.4,985.2 L396.9,985.6 L397.4,985.8 L397.9,985.8 L398.4,985.5 L398.9,985.4 L399.4,984.9 L399.9,984.3 L400.4,985.4 L400.9,986.0 L401.4,985.9 L401.9,985.7 L402.4,985.8 L402.9,986.0 L403.4,985.4 L403.9,986.1 L404.4,985.9 L404.9,985.8 L405.4,986.2 L405.9,985.8 L406.4,986.2 L406.9,986.7 L407.4,986.2 L407.9,986.9 L408.4,986.3 L408.9,986.6 L409.4,986.8 L409.9,986.9 L410.4,985.6 L410.9,986.5 L411.4,986.8 L411.9,986.4 L412.4,986.0 L412.9,986.5 L413.4,986.0 L413.9,986.8 L414.4,985.9 L414.9,986.6 L415.4,986.6 L415.9,987.4 L416.4,986.9 L416.9,987.2 L417.4,987.2 L417.9,987.2 L418.4,987.0 L418.9,987.0 L419.4,987.4 L419.9,986.9 L420.4,986.3 L420.9,986.0 L421.4,986.7 L421.9,986.4 L422.4,986.5 L422.9,986.6 L423.4,986.8 L423.9,986.9 L424.4,987.0 L424.9,987.7 L425.4,987.6 L425.9,988.2 L426.4,987.2 L426.9,988.1 L427.4,987.6 L427.9,987.5 L428.4,987.3 L428.9,987.2 L429.4,987.5 L429.9,987.3 L430.4,987.0 L430.9,987.3 L431.4,986.8 L431.9,986.8 L432.4,986.8 L432.9,986.6 L433.4,987.0 L433.9,987.2 L434.4,987.3 L434.9,988.1 L435.4,987.3 L435.9,988.1 L436.4,987.0 L436.9,987.6 L437.4,986.8 L437.9,987.1 L438.4,986.7 L438.9,986.2 L439.4,984.3 L439.6,983.0 L439.9,980.1 L440.1,976.5 L440.4,971.0 L440.6,969.9 L440.9,972.1 L441.1,975.8 L441.4,980.0 L441.6,983.4 L441.9,984.8 L442.4,985.4 L442.9,985.5 L443.4,986.2 L443.9,986.5 L444.4,986.0 L444.9,986.6 L445.4,986.4 L445.9,986.6 L446.4,986.1 L446.9,986.7 L447.4,987.1 L447.9,986.7 L448.4,986.8 L448.9,986.7 L449.4,986.3 L449.9,986.2 L450.4,986.3 L450.9,986.1 L451.4,986.8 L451.9,985.4 L452.4,985.5 L452.9,985.6 L453.4,985.7 L453.9,985.7 L454.4,985.6 L454.9,985.1 L455.4,984.6 L455.9,982.7 L456.4,978.7 L456.8,969.1 L456.9,965.0 L457.4,936.8 L457.5,929.8 L457.9,903.9 L458.2,896.4 L458.4,899.8 L458.9,930.0 L458.9,930.2 L459.4,960.1 L459.6,969.7 L459.9,977.1 L460.4,983.3 L460.9,984.8 L461.4,985.7 L461.9,985.5 L462.4,986.2 L462.9,986.2 L463.4,986.4 L463.9,986.6 L464.4,986.4 L464.9,986.7 L465.4,987.3 L465.9,987.2 L466.4,987.2 L466.9,987.3 L467.4,986.4 L467.9,986.2 L468.4,986.9 L468.9,986.0 L469.4,986.7 L469.9,986.8 L470.4,986.3 L470.9,986.4 L471.4,986.6 L471.9,986.7 L472.4,987.1 L472.9,987.0 L473.4,987.0 L473.9,987.2 L474.4,986.6 L474.9,987.7 L475.4,987.5 L475.9,987.6 L476.4,987.1 L476.9,987.1 L477.4,987.1 L477.9,987.8 L478.4,987.1 L478.9,987.1 L479.4,987.5 L479.9,987.4 L480.4,987.0 L480.9,987.6 L481.4,986.6 L481.9,987.0 L482.4,987.3 L482.9,986.5 L483.4,986.9 L483.9,986.5 L484.4,986.8 L484.9,987.1 L485.4,986.3 L485.9,986.8 L486.4,986.8 L486.9,986.8 L487.4,986.4 L487.9,986.9 L488.4,986.3 L488.9,986.4 L489.4,986.6 L489.9,986.9 L490.4,986.9 L490.9,986.7 L491.4,987.4 L491.9,987.2 L492.4,986.7 L492.9,985.9 L493.0,984.8 L493.4,980.5 L493.5,979.6 L493.9,973.4 L494.0,975.0 L494.4,978.0 L494.5,980.4 L494.9,984.9 L495.0,985.2 L495.4,986.9 L495.9,987.6 L496.4,986.3 L496.9,987.3 L497.4,987.4 L497.9,987.0 L498.4,987.0 L498.9,987.8 L499.4,987.5 L499.9,987.6 L500.4,987.4 L500.9,986.7 L501.4,986.5 L501.9,986.9 L502.4,986.4 L502.9,986.9 L503.4,986.5 L503.9,986.5 L504.4,986.2 L504.9,986.3 L505.4,985.7 L505.9,986.1 L506.4,984.7 L506.9,982.0 L507.0,979.8 L507.4,971.4 L507.6,963.7 L507.9,955.3 L508.2,950.6 L508.4,952.4 L508.8,963.8 L508.9,967.9 L509.4,980.1 L509.4,980.8 L509.9,985.3 L510.4,985.9 L510.9,986.9 L511.4,987.5 L511.9,987.3 L512.4,987.5 L512.9,987.2 L513.4,987.7 L513.9,987.1 L514.4,987.0 L514.9,987.2 L515.4,986.8 L515.9,986.7 L516.4,986.6 L516.9,986.3 L517.4,983.2 L517.4,982.5 L517.9,973.8 L517.9,973.4 L518.4,966.4 L518.9,973.9 L518.9,973.2 L519.4,982.1 L519.4,982.3 L519.9,985.7 L520.4,986.2 L520.9,986.1 L521.4,986.0 L521.9,986.5 L522.4,987.0 L522.9,986.6 L523.4,986.3 L523.9,986.6 L524.4,987.4 L524.9,987.9 L525.4,987.0 L525.9,987.6 L526.4,987.2 L526.9,988.0 L527.4,987.3 L527.9,986.9 L528.4,987.7 L528.9,987.4 L529.4,987.4 L529.9,987.4 L530.4,986.5 L530.9,985.6 L531.4,986.7 L531.9,987.5 L532.4,987.4 L532.9,986.9 L533.4,987.6 L533.9,987.2 L534.4,986.9 L534.9,987.4 L535.4,987.5 L535.9,987.3 L536.4,986.9 L536.9,987.8 L537.4,987.2 L537.9,987.4 L538.4,987.4 L538.9,987.6 L539.4,987.5 L539.9,987.9 L540.4,987.5 L540.9,987.7 L541.4,987.5 L541.9,987.6 L542.4,987.9 L542.9,987.9 L543.4,988.3 L543.9,988.0 L544.4,988.7 L544.9,988.6 L545.4,988.2 L545.9,987.7 L546.4,987.5 L546.9,988.0 L547.4,987.0 L547.9,987.5 L548.4,986.7 L548.9,986.7 L549.4,986.7 L549.9,986.8 L550.4,987.5 L550.9,987.1 L551.4,987.4 L551.9,988.9 L552.4,988.6 L552.9,989.7 L553.4,988.5 L553.9,988.0 L554.4,988.3 L554.9,987.5 L555.4,988.5 L555.9,987.6 L556.4,987.9 L556.9,988.7 L557.4,988.2 L557.9,988.5 L558.4,987.6 L558.9,988.2 L559.4,988.7 L559.9,987.2 L560.4,987.8 L560.9,987.8 L561.4,987.2 L561.9,987.5 L562.4,987.9 L562.9,987.6 L563.4,988.0 L563.9,988.1 L564.4,987.9 L564.9,988.2 L565.4,987.8 L565.9,988.6 L566.4,988.1 L566.9,988.7 L567.4,989.6 L567.9,988.6 L568.4,988.5 L568.9,988.1 L569.4,987.4 L569.5,986.6 L569.9,985.3 L570.0,984.1 L570.4,982.2 L570.5,982.5 L570.9,983.7 L571.0,984.6 L571.4,986.8 L571.5,987.0 L571.9,987.2 L572.4,987.5 L572.9,987.4 L573.4,987.4 L573.9,987.6 L574.4,988.2 L574.9,988.2 L575.4,987.3 L575.9,987.3 L576.0,987.2 L576.4,986.0 L576.5,985.6 L576.9,983.3 L577.0,983.0 L577.4,984.4 L577.5,985.2 L577.9,987.4 L578.0,986.9 L578.4,987.9 L578.9,987.9 L579.4,987.8 L579.9,988.1 L580.4,988.0 L580.9,987.6 L581.4,988.4 L581.9,987.7 L582.4,988.0 L582.9,987.4 L583.4,988.0 L583.9,987.4 L584.4,987.2 L584.9,987.2 L585.4,987.2 L585.9,987.4 L586.4,986.9 L586.9,987.3 L587.4,987.0 L587.9,987.3 L588.4,987.1 L588.9,986.8 L589.4,987.7 L589.9,987.5 L590.4,987.7 L590.9,986.9 L591.4,987.2 L591.9,987.5 L592.4,987.4 L592.9,987.3 L593.4,987.9 L593.9,987.3 L594.4,987.5 L594.9,987.1 L595.4,986.9 L595.9,987.0 L596.4,986.9 L596.9,987.1 L597.4,986.9 L597.9,987.4 L598.3,987.1 L598.4,986.3 L598.9,984.3 L598.9,983.7 L599.4,980.6 L599.5,981.0 L599.9,982.1 L600.1,983.2 L600.4,985.4 L600.7,986.1 L600.9,987.1 L601.4,987.1 L601.9,987.9 L602.4,987.5 L602.9,987.6 L603.4,987.5 L603.9,987.2 L604.4,988.1 L604.9,987.7 L605.4,988.0 L605.9,987.3 L606.4,986.8 L606.9,986.9 L607.4,987.5 L607.9,987.1 L608.4,987.2 L608.9,987.6 L609.4,988.3 L609.9,987.9 L610.4,988.2 L610.9,988.4 L611.4,987.7 L611.9,988.1 L612.4,988.4 L612.9,988.0 L613.4,987.1 L613.5,986.4 L613.9,985.0 L614.0,984.9 L614.4,982.5 L614.5,982.5 L614.9,984.8 L615.0,984.7 L615.4,986.8 L615.5,986.7 L615.9,987.7 L616.4,987.4 L616.9,988.1 L617.4,988.3 L617.9,988.3 L618.4,988.4 L618.9,988.1 L619.4,988.0 L619.9,988.2 L620.4,987.9 L620.9,988.5 L621.4,987.9 L621.9,988.0 L622.4,988.4 L622.9,988.3 L623.4,987.8 L623.9,988.4 L624.4,987.6 L624.9,987.6 L625.4,987.7 L625.9,987.6 L626.4,987.2 L626.9,986.6 L627.4,986.6 L627.9,987.3 L628.4,986.9 L628.9,986.9 L629.4,988.3 L629.9,988.0 L630.4,987.4 L630.9,987.6 L631.4,988.2 L631.9,988.1 L632.4,987.9 L632.9,987.3 L633.4,987.3 L633.9,987.2 L634.4,987.1 L634.9,987.1 L635.4,987.4 L635.9,987.5 L636.4,987.2 L636.9,987.2 L637.4,987.9 L637.9,987.9 L638.4,987.2 L638.9,988.2 L639.4,988.2 L639.9,987.5 L640.4,987.9 L640.9,987.5 L641.4,987.2 L641.9,987.8 L642.4,986.9 L642.9,987.2 L643.4,987.4 L643.9,987.9 L644.4,987.9 L644.9,986.1 L645.4,987.2 L645.9,986.5 L646.4,986.4 L646.9,986.8 L647.4,987.8 L647.9,988.4 L648.4,987.6 L648.9,987.8 L649.4,988.4 L649.9,988.1 L650.4,987.9 L650.9,987.4 L651.4,986.9 L651.9,987.3 L652.4,987.5 L652.9,987.4 L653.4,986.4 L653.9,986.3 L654.4,986.5 L654.9,986.3 L655.4,986.8 L655.9,986.4 L656.4,986.2 L656.9,987.1 L657.4,986.8 L657.9,986.9 L658.4,986.1 L658.9,987.1 L659.4,988.4 L659.9,986.9 L660.4,987.3 L660.9,988.7 L661.4,987.3 L661.7,986.7 L661.9,986.2 L662.4,985.6 L662.4,985.7 L662.9,984.3 L663.0,984.4 L663.4,985.3 L663.6,985.4 L663.9,985.4 L664.3,986.8 L664.4,986.5 L664.9,984.8 L665.4,986.3 L665.9,987.4 L666.4,986.8 L666.9,985.8 L667.4,987.5 L667.9,987.3 L668.4,987.0 L668.9,987.7 L669.4,987.6 L669.9,987.0 L670.4,987.9 L670.9,987.5" fill="none" stroke="#0b8043" stroke-width="1.4" stroke-linejoin="round"/>
<path d="M71.5,897.6 L78.5,905.9 L71.5,914.1 L64.5,905.9 Z" fill="#0b8043"/>
<path d="M100.4,736.1 L107.4,744.4 L100.4,752.6 L93.4,744.4 Z" fill="#0b8043"/>
<path d="M165.0,918.2 L172.0,926.5 L165.0,934.8 L158.0,926.5 Z" fill="#0b8043"/>
<path d="M216.2,830.8 L223.2,839.0 L216.2,847.2 L209.2,839.0 Z" fill="#0b8043"/>
<path d="M256.0,731.1 L263.0,739.4 L256.0,747.6 L249.0,739.4 Z" fill="#0b8043"/>
<path d="M280.7,764.8 L287.7,773.0 L280.7,781.2 L273.7,773.0 Z" fill="#0b8043"/>
<path d="M293.3,944.8 L300.3,953.0 L293.3,961.2 L286.3,953.0 Z" fill="#0b8043"/>
<path d="M346.3,953.2 L353.3,961.5 L346.3,969.8 L339.3,961.5 Z" fill="#0b8043"/>
<path d="M386.0,927.2 L393.0,935.5 L386.0,943.8 L379.0,935.5 Z" fill="#0b8043"/>
<path d="M440.0,949.5 L447.0,957.8 L440.0,966.0 L433.0,957.8 Z" fill="#0b8043"/>
<path d="M460.3,879.4 L467.3,887.6 L460.3,895.9 L453.3,887.6 Z" fill="#0b8043"/>
<path d="M493.8,956.2 L500.8,964.5 L493.8,972.8 L486.8,964.5 Z" fill="#0b8043"/>
<path d="M509.0,933.2 L516.0,941.5 L509.0,949.8 L502.0,941.5 Z" fill="#0b8043"/>
<path d="M523.4,950.8 L530.4,959.0 L523.4,967.2 L516.4,959.0 Z" fill="#0b8043"/>
<path d="M371.3,768.0 L378.1,775.9 L371.3,783.8 L364.5,775.9 Z" fill="#0b8043"/>
<circle cx="386.0" cy="771.7" r="1.6" fill="#0b8043"/><circle cx="386.0" cy="782.7" r="1.6" fill="#0b8043"/>
<text x="397.5" y="784.3" font-size="24.4" fill="#0b8043" font-weight="normal" text-anchor="start" stroke="#fff" stroke-width="0.30">Calcium sulfate hydrate</text>
<rect x="0" y="0" width="673.4" height="2.2" fill="#000"/>
<rect x="0" y="0" width="2.9" height="1025.8" fill="#000"/>
<rect x="670.6" y="0" width="2.8" height="1025.8" fill="#000"/>
<rect x="0" y="341.6" width="673" height="2.2" fill="#000"/>
<rect x="0" y="682.4" width="673" height="2.3" fill="#000"/>
<rect x="0" y="1023.0" width="673.4" height="2.8" fill="#000"/>
<line x1="53.50" y1="2.2" x2="53.50" y2="13.5" stroke="#000" stroke-width="2.2"/>
<line x1="53.50" y1="342.1" x2="53.50" y2="330.1" stroke="#000" stroke-width="2.2"/>
<line x1="53.50" y1="682.9" x2="53.50" y2="670.9" stroke="#000" stroke-width="2.2"/>
<line x1="53.50" y1="1023.5" x2="53.50" y2="1011.5" stroke="#000" stroke-width="2.2"/>
<line x1="105.09" y1="2.2" x2="105.09" y2="7.6" stroke="#000" stroke-width="2.2"/>
<line x1="105.09" y1="342.1" x2="105.09" y2="335.8" stroke="#000" stroke-width="2.2"/>
<line x1="105.09" y1="682.9" x2="105.09" y2="676.6" stroke="#000" stroke-width="2.2"/>
<line x1="105.09" y1="1023.5" x2="105.09" y2="1017.2" stroke="#000" stroke-width="2.2"/>
<line x1="156.68" y1="2.2" x2="156.68" y2="13.5" stroke="#000" stroke-width="2.2"/>
<line x1="156.68" y1="342.1" x2="156.68" y2="330.1" stroke="#000" stroke-width="2.2"/>
<line x1="156.68" y1="682.9" x2="156.68" y2="670.9" stroke="#000" stroke-width="2.2"/>
<line x1="156.68" y1="1023.5" x2="156.68" y2="1011.5" stroke="#000" stroke-width="2.2"/>
<line x1="208.27" y1="2.2" x2="208.27" y2="7.6" stroke="#000" stroke-width="2.2"/>
<line x1="208.27" y1="342.1" x2="208.27" y2="335.8" stroke="#000" stroke-width="2.2"/>
<line x1="208.27" y1="682.9" x2="208.27" y2="676.6" stroke="#000" stroke-width="2.2"/>
<line x1="208.27" y1="1023.5" x2="208.27" y2="1017.2" stroke="#000" stroke-width="2.2"/>
<line x1="259.86" y1="2.2" x2="259.86" y2="13.5" stroke="#000" stroke-width="2.2"/>
<line x1="259.86" y1="342.1" x2="259.86" y2="330.1" stroke="#000" stroke-width="2.2"/>
<line x1="259.86" y1="682.9" x2="259.86" y2="670.9" stroke="#000" stroke-width="2.2"/>
<line x1="259.86" y1="1023.5" x2="259.86" y2="1011.5" stroke="#000" stroke-width="2.2"/>
<line x1="311.45" y1="2.2" x2="311.45" y2="7.6" stroke="#000" stroke-width="2.2"/>
<line x1="311.45" y1="342.1" x2="311.45" y2="335.8" stroke="#000" stroke-width="2.2"/>
<line x1="311.45" y1="682.9" x2="311.45" y2="676.6" stroke="#000" stroke-width="2.2"/>
<line x1="311.45" y1="1023.5" x2="311.45" y2="1017.2" stroke="#000" stroke-width="2.2"/>
<line x1="363.04" y1="2.2" x2="363.04" y2="13.5" stroke="#000" stroke-width="2.2"/>
<line x1="363.04" y1="342.1" x2="363.04" y2="330.1" stroke="#000" stroke-width="2.2"/>
<line x1="363.04" y1="682.9" x2="363.04" y2="670.9" stroke="#000" stroke-width="2.2"/>
<line x1="363.04" y1="1023.5" x2="363.04" y2="1011.5" stroke="#000" stroke-width="2.2"/>
<line x1="414.63" y1="2.2" x2="414.63" y2="7.6" stroke="#000" stroke-width="2.2"/>
<line x1="414.63" y1="342.1" x2="414.63" y2="335.8" stroke="#000" stroke-width="2.2"/>
<line x1="414.63" y1="682.9" x2="414.63" y2="676.6" stroke="#000" stroke-width="2.2"/>
<line x1="414.63" y1="1023.5" x2="414.63" y2="1017.2" stroke="#000" stroke-width="2.2"/>
<line x1="466.22" y1="2.2" x2="466.22" y2="13.5" stroke="#000" stroke-width="2.2"/>
<line x1="466.22" y1="342.1" x2="466.22" y2="330.1" stroke="#000" stroke-width="2.2"/>
<line x1="466.22" y1="682.9" x2="466.22" y2="670.9" stroke="#000" stroke-width="2.2"/>
<line x1="466.22" y1="1023.5" x2="466.22" y2="1011.5" stroke="#000" stroke-width="2.2"/>
<line x1="517.81" y1="2.2" x2="517.81" y2="7.6" stroke="#000" stroke-width="2.2"/>
<line x1="517.81" y1="342.1" x2="517.81" y2="335.8" stroke="#000" stroke-width="2.2"/>
<line x1="517.81" y1="682.9" x2="517.81" y2="676.6" stroke="#000" stroke-width="2.2"/>
<line x1="517.81" y1="1023.5" x2="517.81" y2="1017.2" stroke="#000" stroke-width="2.2"/>
<line x1="569.40" y1="2.2" x2="569.40" y2="13.5" stroke="#000" stroke-width="2.2"/>
<line x1="569.40" y1="342.1" x2="569.40" y2="330.1" stroke="#000" stroke-width="2.2"/>
<line x1="569.40" y1="682.9" x2="569.40" y2="670.9" stroke="#000" stroke-width="2.2"/>
<line x1="569.40" y1="1023.5" x2="569.40" y2="1011.5" stroke="#000" stroke-width="2.2"/>
<line x1="620.99" y1="2.2" x2="620.99" y2="7.6" stroke="#000" stroke-width="2.2"/>
<line x1="620.99" y1="342.1" x2="620.99" y2="335.8" stroke="#000" stroke-width="2.2"/>
<line x1="620.99" y1="682.9" x2="620.99" y2="676.6" stroke="#000" stroke-width="2.2"/>
<line x1="620.99" y1="1023.5" x2="620.99" y2="1017.2" stroke="#000" stroke-width="2.2"/>
<rect x="2.9" y="2.2" width="149" height="46" fill="#fff" stroke="none"/>
<line x1="151.9" y1="2.2" x2="151.9" y2="48" stroke="#d8d8d8" stroke-width="1.2"/>
<line x1="2.9" y1="48.4" x2="152.5" y2="48.4" stroke="#6a6a6a" stroke-width="1.5"/>
<line x1="5.3" y1="24.6" x2="48.5" y2="24.6" stroke="#ff0000" stroke-width="2.5"/>
<text x="55.5" y="37.6" font-size="35.0" fill="#ff0000" font-weight="normal" text-anchor="start">GGBS</text>
<rect x="2.9" y="343.0" width="95" height="47" fill="#fff"/>
<line x1="98" y1="343" x2="98" y2="389.8" stroke="#555" stroke-width="1.4"/>
<line x1="5.6" y1="365" x2="48.2" y2="365" stroke="#0474ff" stroke-width="2.6"/>
<text x="56.5" y="378.4" font-size="35.0" fill="#0474ff" font-weight="normal" text-anchor="start">SS</text>
<rect x="2.9" y="683.4" width="107" height="47.4" fill="#fff"/>
<line x1="110" y1="683" x2="110" y2="731.5" stroke="#262626" stroke-width="1.5"/>
<line x1="2.9" y1="731.0" x2="110.7" y2="731.0" stroke="#262626" stroke-width="1.3"/>
<line x1="5.3" y1="707" x2="48.7" y2="707" stroke="#0b8043" stroke-width="2.2"/>
<text x="55.5" y="719.2" font-size="35.0" fill="#0b8043" font-weight="normal" text-anchor="start">DG</text>
<text transform="translate(53.80,1060.60) scale(0.965,0.950)" font-size="30.8" fill="#000" font-weight="bold" text-anchor="middle" stroke="#fff" stroke-width="0.30">10</text>
<text transform="translate(156.98,1060.60) scale(0.965,0.950)" font-size="30.8" fill="#000" font-weight="bold" text-anchor="middle" stroke="#fff" stroke-width="0.30">20</text>
<text transform="translate(260.16,1060.60) scale(0.965,0.950)" font-size="30.8" fill="#000" font-weight="bold" text-anchor="middle" stroke="#fff" stroke-width="0.30">30</text>
<text transform="translate(363.34,1060.60) scale(0.965,0.950)" font-size="30.8" fill="#000" font-weight="bold" text-anchor="middle" stroke="#fff" stroke-width="0.30">40</text>
<text transform="translate(466.52,1060.60) scale(0.965,0.950)" font-size="30.8" fill="#000" font-weight="bold" text-anchor="middle" stroke="#fff" stroke-width="0.30">50</text>
<text transform="translate(569.70,1060.60) scale(0.965,0.950)" font-size="30.8" fill="#000" font-weight="bold" text-anchor="middle" stroke="#fff" stroke-width="0.30">60</text>
<text transform="translate(672.88,1060.60) scale(0.965,0.950)" font-size="30.8" fill="#000" font-weight="bold" text-anchor="middle" stroke="#fff" stroke-width="0.30">70</text>
<text x="336.8" y="1114.1" font-size="34.5" fill="#000" font-weight="bold" text-anchor="middle">2 Theta (&#176;)</text>
</svg></body></html>
